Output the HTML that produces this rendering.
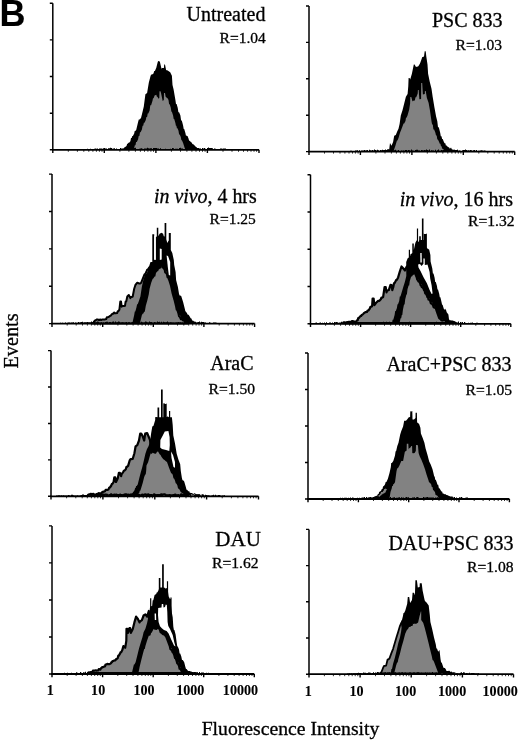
<!DOCTYPE html>
<html><head><meta charset="utf-8"><style>
html,body{margin:0;padding:0;background:#fff;}
svg{display:block;filter:grayscale(1);}
text{font-family:"Liberation Serif",serif;fill:#000;stroke:#000;stroke-width:0.3px;}
text[font-weight=bold]{stroke-width:0.1px;}
</style></head><body>
<svg width="520" height="741" viewBox="0 0 520 741">
<rect width="520" height="741" fill="#fff"/>
<polygon points="118.0,149.8 118.5,149.3 119.0,149.3 119.5,148.9 120.0,148.9 120.5,149.4 121.0,149.4 121.5,148.3 122.0,148.3 122.5,148.8 123.0,148.8 124.0,148.5 124.6,147.1 125.2,147.1 126.5,146.0 127.2,143.8 127.8,143.8 128.4,142.8 129.1,142.8 130.4,141.2 131.0,138.0 131.7,138.0 132.3,136.0 132.9,136.0 134.2,133.5 134.7,131.1 135.2,131.1 136.2,130.0 138.1,121.9 138.8,119.4 139.6,119.4 141.0,118.0 142.5,112.0 143.8,106.5 145.4,94.2 147.1,93.0 148.8,82.7 150.6,75.8 151.3,74.5 152.1,74.5 153.5,73.5 154.2,71.1 154.9,71.1 156.3,67.7 157.6,62.5 158.1,61.0 159.8,61.5 161.5,68.8 162.1,67.9 162.7,67.9 163.9,68.0 164.2,64.5 165.0,64.5 166.1,70.0 166.7,70.2 167.2,70.2 168.4,71.1 170.2,72.3 171.9,75.8 172.5,85.0 173.6,89.6 175.4,100.0 176.0,104.0 176.6,104.0 177.7,107.7 178.4,112.2 179.1,112.2 180.4,115.4 181.1,120.5 181.8,120.5 183.1,125.4 183.7,129.1 184.2,129.1 185.4,133.1 185.9,135.6 186.4,135.6 186.9,136.1 187.5,136.1 188.5,138.5 189.1,140.8 189.8,140.8 190.4,141.7 191.0,141.7 192.3,143.8 192.9,144.3 193.5,144.3 194.0,145.2 194.6,145.2 195.2,146.5 195.8,146.5 196.9,147.7 197.4,148.5 197.9,148.5 198.4,147.9 198.9,147.9 199.5,148.8 200.0,148.8 201.0,149.0 207.0,149.8" fill="#000"/>
<polygon points="133.5,149.8 134.2,147.9 134.8,145.2 135.5,145.2 136.1,141.9 136.8,141.9 138.1,139.2 138.7,136.1 139.4,136.1 140.0,132.2 140.6,132.2 141.9,129.6 142.6,125.8 143.2,125.8 143.9,122.8 144.5,122.8 145.8,120.0 146.4,117.1 147.1,117.1 147.7,113.5 148.3,113.5 149.6,110.4 150.3,105.3 151.1,105.3 152.5,100.8 153.0,98.2 153.6,98.2 154.6,95.4 156.3,94.8 156.9,96.7 157.4,96.7 158.6,98.8 159.3,98.0 159.5,91.3 160.5,91.3 161.0,93.0 162.7,101.1 163.8,100.0 164.0,93.0 165.0,93.0 165.6,96.5 166.2,97.4 166.8,97.4 167.9,98.8 168.5,100.0 169.1,104.3 169.7,104.3 170.8,107.7 171.4,111.8 171.9,111.8 173.1,115.4 173.7,118.9 174.2,118.9 175.4,123.1 175.9,125.8 176.4,125.8 176.9,128.3 177.5,128.3 178.5,130.8 179.1,134.4 179.7,134.4 180.8,136.9 181.4,140.3 181.9,140.3 183.1,143.1 184.6,147.7 185.5,149.8" fill="#828282"/>
<polygon points="86.0,149.8 86.0,149.1 87.0,149.1 87.0,148.8 88.0,148.8 88.0,149.1 89.0,149.1 89.0,149.0 90.0,149.0 90.0,148.8 91.0,148.8 91.0,149.1 92.0,149.1 92.0,148.9 93.0,148.9 93.0,149.2 94.0,149.2 94.0,148.7 95.0,148.7 95.0,148.6 96.0,148.6 96.0,148.7 97.0,148.7 97.0,148.5 98.0,148.5 98.0,148.9 99.0,148.9 99.0,148.6 100.0,148.6 100.0,148.6 101.0,148.6 101.0,148.6 102.0,148.6 102.0,148.7 103.0,148.7 103.0,148.3 104.0,148.3 104.0,148.1 105.0,148.1 105.0,148.6 106.0,148.6 106.0,148.4 107.0,148.4 107.0,149.1 108.0,149.1 108.0,148.3 109.0,148.3 109.0,148.3 110.0,148.3 110.0,147.8 111.0,147.8 111.0,148.0 112.0,148.0 112.0,148.8 113.0,148.8 113.0,148.6 114.0,148.6 114.0,148.2 115.0,148.2 115.0,149.2 116.0,149.2 116.0,148.5 117.0,148.5 117.0,148.9 118.0,148.9 118.0,149.0 119.0,149.0 119.0,149.1 120.0,149.1 120.0,148.0 121.0,148.0 121.0,149.0 122.0,149.0 122.0,148.8 123.0,148.8 123.0,148.6 124.0,148.6 124.0,147.9 125.0,147.9 125.0,149.1 126.0,149.1 126.0,148.5 127.0,148.5 127.0,148.4 128.0,148.4 128.0,147.9 129.0,147.9 129.0,148.0 130.0,148.0 130.0,147.9 131.0,147.9 131.0,148.8 132.0,148.8 132.0,148.6 133.0,148.6 133.0,148.7 134.0,148.7 134.0,147.9 135.0,147.9 135.0,147.8 136.0,147.8 136.0,149.0 137.0,149.0 137.0,148.9 138.0,148.9 138.0,148.9 139.0,148.9 139.0,148.8 140.0,148.8 140.0,148.5 141.0,148.5 141.0,148.3 142.0,148.3 142.0,148.8 143.0,148.8 143.0,149.2 144.0,149.2 144.0,148.6 145.0,148.6 145.0,148.6 146.0,148.6 146.0,148.4 147.0,148.4 147.0,147.8 148.0,147.8 148.0,148.2 149.0,148.2 149.0,148.4 150.0,148.4 150.0,148.3 151.0,148.3 151.0,148.2 152.0,148.2 152.0,149.1 153.0,149.1 153.0,147.9 154.0,147.9 154.0,148.0 155.0,148.0 155.0,147.9 156.0,147.9 156.0,148.0 157.0,148.0 157.0,148.6 158.0,148.6 158.0,148.6 159.0,148.6 159.0,149.0 160.0,149.0 160.0,148.2 161.0,148.2 161.0,149.1 162.0,149.1 162.0,149.1 163.0,149.1 163.0,148.9 164.0,148.9 164.0,149.0 165.0,149.0 165.0,148.7 166.0,148.7 166.0,149.1 167.0,149.1 167.0,149.2 168.0,149.2 168.0,149.0 169.0,149.0 169.0,149.0 170.0,149.0 170.0,148.7 171.0,148.7 171.0,149.2 172.0,149.2 172.0,147.9 173.0,147.9 173.0,148.3 174.0,148.3 174.0,149.0 175.0,149.0 175.0,148.8 176.0,148.8 176.0,148.7 177.0,148.7 177.0,148.7 178.0,148.7 178.0,149.0 179.0,149.0 179.0,147.9 180.0,147.9 180.0,147.7 181.0,147.7 181.0,148.5 182.0,148.5 182.0,148.5 183.0,148.5 183.0,149.1 184.0,149.1 184.0,149.0 185.0,149.0 185.0,148.7 186.0,148.7 186.0,148.8 187.0,148.8 187.0,148.0 188.0,148.0 188.0,149.0 189.0,149.0 189.0,149.2 190.0,149.2 190.0,147.8 191.0,147.8 191.0,148.4 192.0,148.4 192.0,149.0 193.0,149.0 193.0,148.4 194.0,148.4 194.0,149.2 195.0,149.2 195.0,148.4 196.0,148.4 196.0,147.7 197.0,147.7 197.0,147.9 198.0,147.9 198.0,148.2 199.0,148.2 199.0,148.8 200.0,148.8 200.0,148.6 201.0,148.6 201.0,148.9 202.0,148.9 202.0,148.0 203.0,148.0 203.0,148.4 204.0,148.4 204.0,148.0 205.0,148.0 205.0,148.7 206.0,148.7 206.0,148.9 207.0,148.9 207.0,148.0 208.0,148.0 208.0,147.6 209.0,147.6 209.0,147.9 210.0,147.9 210.0,148.0 211.0,148.0 211.0,148.0 212.0,148.0 212.0,148.2 213.0,148.2 213.0,148.9 214.0,148.9 214.0,148.5 215.0,148.5 215.0,148.8 216.0,148.8 216.0,149.2 217.0,149.2 217.0,149.2 218.0,149.2 218.0,148.9 219.0,148.9 219.0,148.9 220.0,148.9 220.0,148.6 221.0,148.6 221.0,148.4 222.0,148.4 222.0,148.8 223.0,148.8 223.0,148.5 224.0,148.5 224.0,148.5 225.0,148.5 225.0,148.6 226.0,148.6 226.0,149.0 227.0,149.0 227.0,149.1 228.0,149.1 228.0,149.1 229.0,149.1 229.0,149.8" fill="#000"/>
<path d="M52.8,3.2V149.8" fill="none" stroke="#000" stroke-width="1.5"/>
<path d="M52.0,149.8H259.0" fill="none" stroke="#000" stroke-width="1.8"/>
<path d="M49.8,3.2H52.8M52.8,149.8V153.1M49.8,39.9H52.8M104.3,149.8V153.1M49.8,76.5H52.8M155.9,149.8V153.1M49.8,113.2H52.8M207.4,149.8V153.1M49.8,149.8H52.8M259.0,149.8V153.1" fill="none" stroke="#000" stroke-width="1.4"/>
<path d="M68.3,149.8V151.8M77.4,149.8V151.8M83.8,149.8V151.8M88.8,149.8V151.8M92.9,149.8V151.8M96.4,149.8V151.8M99.4,149.8V151.8M102.0,149.8V151.8M119.9,149.8V151.8M128.9,149.8V151.8M135.4,149.8V151.8M140.4,149.8V151.8M144.5,149.8V151.8M147.9,149.8V151.8M150.9,149.8V151.8M153.5,149.8V151.8M171.4,149.8V151.8M180.5,149.8V151.8M186.9,149.8V151.8M191.9,149.8V151.8M196.0,149.8V151.8M199.5,149.8V151.8M202.5,149.8V151.8M205.1,149.8V151.8M223.0,149.8V151.8M232.0,149.8V151.8M238.5,149.8V151.8M243.5,149.8V151.8M247.6,149.8V151.8M251.0,149.8V151.8M254.0,149.8V151.8M256.6,149.8V151.8" fill="none" stroke="#000" stroke-width="1.0" opacity="0.8"/>
<polygon points="92.0,323.4 93.5,322.9 94.1,321.3 94.6,321.3 95.2,320.2 95.8,320.2 96.9,319.4 97.5,319.6 98.1,319.6 98.7,320.0 99.2,320.0 100.4,319.4 101.0,319.9 101.6,319.9 102.1,319.4 102.7,319.4 103.3,319.6 103.8,319.6 105.0,319.4 105.6,319.1 106.2,319.1 106.8,317.3 107.3,317.3 108.5,317.1 109.1,316.4 109.6,316.4 110.2,315.7 110.8,315.7 111.9,314.2 112.5,313.7 113.1,313.7 114.2,312.5 114.9,313.2 115.7,313.2 117.1,313.1 117.7,311.3 118.2,311.3 119.4,309.6 120.3,301.5 121.0,301.5 121.7,306.7 122.3,305.9 122.8,305.9 124.0,306.1 125.0,305.8 125.6,301.6 126.2,301.6 127.3,296.5 128.8,295.0 130.4,298.1 131.0,297.1 131.6,297.1 132.7,296.5 134.2,288.8 135.4,285.0 137.3,282.7 139.2,283.5 139.7,283.5 140.2,283.5 141.2,282.7 142.7,278.8 144.2,275.0 144.8,273.9 145.3,273.9 146.5,271.5 147.1,269.7 147.7,269.7 148.8,268.1 149.3,267.3 149.9,267.3 150.4,267.3 150.9,267.3 152.0,266.0 152.5,265.8 153.0,265.8 153.5,264.5 154.0,264.5 154.5,264.0 155.0,264.0 156.0,264.0 156.6,263.6 157.1,263.6 157.7,264.8 158.3,264.8 158.8,264.7 159.4,264.7 160.0,263.9 160.6,263.9 161.7,264.5 162.4,267.5 163.1,267.5 164.6,269.6 165.2,272.6 165.8,272.6 166.9,274.2 167.5,277.3 168.1,277.3 169.2,280.0 171.0,285.8 172.7,293.8 174.4,299.6 176.1,306.5 176.7,309.7 177.2,309.7 178.4,313.4 179.0,316.4 179.6,316.4 180.8,319.2 181.4,319.3 181.9,319.3 183.1,320.4 183.7,320.3 184.2,320.3 184.8,322.2 185.4,322.2 186.5,322.1 188.0,323.4" fill="#828282" stroke="#000" stroke-width="2.0" stroke-linejoin="round"/>
<polygon points="132.3,323.4 134.2,315.0 134.8,311.4 135.3,311.4 136.5,307.3 137.1,304.3 137.7,304.3 138.8,301.2 140.4,296.5 141.9,286.5 143.5,279.6 145.0,275.0 145.7,273.9 146.3,273.9 147.7,271.5 149.2,266.0 150.5,262.0 152.3,262.0 152.3,234.2 154.2,234.2 154.2,260.0 155.8,260.0 155.8,236.9 156.8,236.5 156.8,227.7 158.3,227.7 158.3,236.2 159.6,233.8 161.5,232.7 163.1,233.8 163.8,236.2 164.6,236.5 164.6,223.1 166.3,223.1 166.3,239.2 167.3,243.1 168.5,240.8 168.8,240.5 168.8,233.1 169.3,233.0 169.8,233.0 170.8,233.1 170.8,250.0 172.3,253.1 173.8,260.0 174.2,265.0 175.6,271.9 176.1,280.0 177.9,286.9 179.0,293.8 179.6,295.4 180.1,295.4 181.2,296.0 183.1,301.9 184.8,308.8 185.4,311.6 185.9,311.6 187.1,313.4 187.8,314.7 188.6,314.7 190.0,316.9 190.6,318.3 191.2,318.3 192.3,320.4 192.9,320.8 193.4,320.8 194.0,321.4 194.6,321.4 195.7,322.5 197.0,323.4 186.5,323.4 185.9,322.5 185.4,322.5 184.8,321.1 184.2,321.1 183.1,320.4 182.5,319.7 181.9,319.7 180.8,319.2 180.2,315.8 179.6,315.8 178.4,313.4 177.8,310.5 177.2,310.5 176.1,306.5 174.4,299.6 172.7,293.8 171.0,285.8 169.2,280.0 168.6,276.9 168.1,276.9 166.9,274.2 166.3,271.8 165.8,271.8 164.6,269.6 163.9,268.0 163.1,268.0 161.7,266.1 161.0,268.4 160.2,268.4 158.8,269.6 158.1,271.2 157.4,271.2 156.0,273.1 155.3,276.5 154.6,276.5 153.1,278.8 152.7,278.8 151.2,282.7 149.6,288.8 148.8,294.2 147.3,300.4 145.8,305.8 145.0,310.4 144.5,311.9 144.0,311.9 143.4,313.5 142.9,313.5 141.9,315.0 140.4,321.2 140.0,323.4" fill="#000"/>
<polygon points="154.2,235.5 155.6,236.5 155.6,259.0 154.2,259.0" fill="#fff"/>
<polygon points="159.8,248.5 161.7,249.0 161.7,259.5 159.8,260.0" fill="#fff"/>
<polygon points="166.6,255.4 168.0,256.0 170.2,262.0 170.2,275.4 168.8,275.0 167.6,265.0" fill="#fff"/>
<polygon points="60.0,323.6 60.0,322.8 61.0,322.8 61.0,323.0 62.0,323.0 62.0,322.8 63.0,322.8 63.0,322.9 64.0,322.9 64.0,323.0 65.0,323.0 65.0,322.5 66.0,322.5 66.0,322.9 67.0,322.9 67.0,322.7 68.0,322.7 68.0,322.5 69.0,322.5 69.0,322.6 70.0,322.6 70.0,322.7 71.0,322.7 71.0,322.6 72.0,322.6 72.0,322.5 73.0,322.5 73.0,322.3 74.0,322.3 74.0,322.9 75.0,322.9 75.0,322.4 76.0,322.4 76.0,322.7 77.0,322.7 77.0,322.7 78.0,322.7 78.0,322.1 79.0,322.1 79.0,322.4 80.0,322.4 80.0,322.3 81.0,322.3 81.0,322.0 82.0,322.0 82.0,321.8 83.0,321.8 83.0,322.4 84.0,322.4 84.0,322.2 85.0,322.2 85.0,322.3 86.0,322.3 86.0,322.3 87.0,322.3 87.0,322.0 88.0,322.0 88.0,322.3 89.0,322.3 89.0,322.2 90.0,322.2 90.0,322.2 91.0,322.2 91.0,321.4 92.0,321.4 92.0,322.0 93.0,322.0 93.0,321.7 94.0,321.7 94.0,321.6 95.0,321.6 95.0,322.6 96.0,322.6 96.0,322.2 97.0,322.2 97.0,321.6 98.0,321.6 98.0,321.7 99.0,321.7 99.0,322.8 100.0,322.8 100.0,322.8 101.0,322.8 101.0,322.3 102.0,322.3 102.0,322.9 103.0,322.9 103.0,322.6 104.0,322.6 104.0,322.9 105.0,322.9 105.0,322.0 106.0,322.0 106.0,321.8 107.0,321.8 107.0,321.7 108.0,321.7 108.0,322.8 109.0,322.8 109.0,321.9 110.0,321.9 110.0,322.0 111.0,322.0 111.0,322.8 112.0,322.8 112.0,321.7 113.0,321.7 113.0,321.5 114.0,321.5 114.0,322.7 115.0,322.7 115.0,321.6 116.0,321.6 116.0,322.4 117.0,322.4 117.0,322.3 118.0,322.3 118.0,321.5 119.0,321.5 119.0,321.8 120.0,321.8 120.0,322.8 121.0,322.8 121.0,322.4 122.0,322.4 122.0,322.2 123.0,322.2 123.0,322.5 124.0,322.5 124.0,322.7 125.0,322.7 125.0,322.5 126.0,322.5 126.0,321.9 127.0,321.9 127.0,323.0 128.0,323.0 128.0,322.2 129.0,322.2 129.0,322.3 130.0,322.3 130.0,323.0 131.0,323.0 131.0,322.5 132.0,322.5 132.0,322.1 133.0,322.1 133.0,322.2 134.0,322.2 134.0,322.9 135.0,322.9 135.0,321.5 136.0,321.5 136.0,321.8 137.0,321.8 137.0,321.5 138.0,321.5 138.0,322.8 139.0,322.8 139.0,322.6 140.0,322.6 140.0,322.9 141.0,322.9 141.0,321.8 142.0,321.8 142.0,322.6 143.0,322.6 143.0,322.8 144.0,322.8 144.0,322.4 145.0,322.4 145.0,321.6 146.0,321.6 146.0,321.8 147.0,321.8 147.0,322.6 148.0,322.6 148.0,322.8 149.0,322.8 149.0,321.6 150.0,321.6 150.0,322.1 151.0,322.1 151.0,321.9 152.0,321.9 152.0,322.9 153.0,322.9 153.0,322.9 154.0,322.9 154.0,322.0 155.0,322.0 155.0,322.4 156.0,322.4 156.0,322.9 157.0,322.9 157.0,321.6 158.0,321.6 158.0,322.0 159.0,322.0 159.0,321.8 160.0,321.8 160.0,322.9 161.0,322.9 161.0,321.7 162.0,321.7 162.0,322.9 163.0,322.9 163.0,321.7 164.0,321.7 164.0,322.3 165.0,322.3 165.0,322.5 166.0,322.5 166.0,322.2 167.0,322.2 167.0,321.6 168.0,321.6 168.0,322.6 169.0,322.6 169.0,322.8 170.0,322.8 170.0,322.2 171.0,322.2 171.0,322.6 172.0,322.6 172.0,322.8 173.0,322.8 173.0,322.8 174.0,322.8 174.0,322.9 175.0,322.9 175.0,322.7 176.0,322.7 176.0,322.5 177.0,322.5 177.0,322.5 178.0,322.5 178.0,321.9 179.0,321.9 179.0,322.6 180.0,322.6 180.0,322.2 181.0,322.2 181.0,322.7 182.0,322.7 182.0,322.5 183.0,322.5 183.0,323.0 184.0,323.0 184.0,322.6 185.0,322.6 185.0,323.0 186.0,323.0 186.0,321.9 187.0,321.9 187.0,322.2 188.0,322.2 188.0,322.7 189.0,322.7 189.0,322.3 190.0,322.3 190.0,321.6 191.0,321.6 191.0,322.8 192.0,322.8 192.0,321.8 193.0,321.8 193.0,322.4 194.0,322.4 194.0,322.3 195.0,322.3 195.0,321.7 196.0,321.7 196.0,322.4 197.0,322.4 197.0,322.2 198.0,322.2 198.0,321.9 199.0,321.9 199.0,321.4 200.0,321.4 200.0,322.5 201.0,322.5 201.0,321.8 202.0,321.8 202.0,322.0 203.0,322.0 203.0,322.1 204.0,322.1 204.0,322.5 205.0,322.5 205.0,322.6 206.0,322.6 206.0,322.9 207.0,322.9 207.0,322.9 208.0,322.9 208.0,322.9 209.0,322.9 209.0,322.3 210.0,322.3 210.0,322.8 211.0,322.8 211.0,322.9 212.0,322.9 212.0,322.9 213.0,322.9 213.0,322.4 214.0,322.4 214.0,322.4 215.0,322.4 215.0,322.6 216.0,322.6 216.0,322.8 217.0,322.8 217.0,322.9 218.0,322.9 218.0,322.9 219.0,322.9 219.0,323.6" fill="#000"/>
<path d="M52.0,174.1V323.6" fill="none" stroke="#000" stroke-width="1.5"/>
<path d="M51.2,323.6H254.6" fill="none" stroke="#000" stroke-width="1.8"/>
<path d="M49.0,174.1H52.0M52.0,323.6V326.9M49.0,211.5H52.0M102.7,323.6V326.9M49.0,248.9H52.0M153.3,323.6V326.9M49.0,286.2H52.0M203.9,323.6V326.9M49.0,323.6H52.0M254.6,323.6V326.9" fill="none" stroke="#000" stroke-width="1.4"/>
<path d="M67.2,323.6V325.6M76.2,323.6V325.6M82.5,323.6V325.6M87.4,323.6V325.6M91.4,323.6V325.6M94.8,323.6V325.6M97.7,323.6V325.6M100.3,323.6V325.6M117.9,323.6V325.6M126.8,323.6V325.6M133.1,323.6V325.6M138.1,323.6V325.6M142.1,323.6V325.6M145.5,323.6V325.6M148.4,323.6V325.6M151.0,323.6V325.6M168.5,323.6V325.6M177.5,323.6V325.6M183.8,323.6V325.6M188.7,323.6V325.6M192.7,323.6V325.6M196.1,323.6V325.6M199.0,323.6V325.6M201.6,323.6V325.6M219.2,323.6V325.6M228.1,323.6V325.6M234.4,323.6V325.6M239.4,323.6V325.6M243.4,323.6V325.6M246.8,323.6V325.6M249.7,323.6V325.6M252.3,323.6V325.6" fill="none" stroke="#000" stroke-width="1.0" opacity="0.8"/>
<polygon points="88.0,495.0 88.5,494.7 89.0,494.7 90.0,494.5 90.6,493.9 91.2,493.9 91.7,494.3 92.3,494.3 92.9,493.9 93.5,493.9 94.0,494.8 94.6,494.8 95.2,494.7 95.8,494.7 96.9,494.0 97.5,493.8 98.1,493.8 98.6,493.1 99.2,493.1 99.8,493.9 100.3,493.9 101.5,493.0 102.1,492.1 102.7,492.1 103.2,491.6 103.8,491.6 105.0,491.2 105.6,489.9 106.2,489.9 106.8,489.9 107.3,489.9 108.5,489.5 109.2,487.5 109.9,487.5 111.3,485.5 111.9,483.8 112.4,483.8 113.6,482.0 114.3,477.4 115.3,477.4 116.0,482.0 117.7,478.6 118.9,472.8 119.9,472.8 121.1,476.2 121.7,473.5 122.2,473.5 123.4,471.6 124.0,470.5 124.6,470.5 125.8,469.3 126.4,466.9 126.9,466.9 128.1,465.9 129.8,460.1 130.5,459.2 131.2,459.2 132.7,458.9 134.4,453.2 135.6,446.3 137.3,445.1 139.0,440.5 140.2,433.6 141.2,433.6 142.5,435.9 144.2,440.5 145.2,433.6 147.1,433.0 148.8,437.0 150.0,440.0 151.3,452.7 151.9,451.5 152.5,451.3 153.1,451.3 153.7,452.2 154.2,452.2 155.4,452.7 156.1,450.6 156.9,450.6 158.3,449.8 160.0,452.7 160.6,453.7 161.2,453.7 162.3,456.1 164.0,458.4 165.8,459.6 166.4,460.5 166.9,460.5 168.1,461.9 169.8,466.5 171.5,471.1 172.1,472.5 172.7,472.5 173.8,474.6 174.4,477.6 174.9,477.6 176.1,480.4 176.7,482.7 177.2,482.7 178.4,485.0 179.0,487.7 179.6,487.7 180.8,489.6 181.4,491.0 181.9,491.0 182.5,492.2 183.1,492.2 184.2,493.0 184.8,494.1 185.3,494.1 186.5,494.2 188.0,495.0 187.5,494.8 187.0,494.8 186.5,494.8 186.0,494.8 185.5,495.7 185.0,495.7 184.5,494.5 184.0,494.5 183.5,495.3 183.0,495.3 182.5,495.2 182.0,495.2 181.5,494.4 181.0,494.4 180.5,495.5 180.0,495.5 179.5,495.5 179.0,495.5 178.5,495.2 178.0,495.2 177.5,495.3 177.0,495.3 176.5,495.4 176.0,495.4 175.5,494.5 175.0,494.5 174.5,495.0 174.0,495.0 173.5,495.0 173.0,495.0 172.5,495.5 172.0,495.5 171.5,495.4 171.0,495.4 170.5,495.5 170.0,495.5 169.5,495.1 169.0,495.1 168.5,495.5 168.0,495.5 167.5,495.3 167.0,495.3 166.5,495.3 166.0,495.3 165.5,494.6 165.0,494.6 164.5,494.3 164.0,494.3 163.5,494.5 163.0,494.5 162.5,494.8 162.0,494.8 161.5,494.4 161.0,494.4 160.5,495.5 160.0,495.5 159.5,495.1 159.0,495.1 158.5,495.2 158.0,495.2 157.5,495.2 157.0,495.2 156.5,495.3 156.0,495.3 155.5,495.0 155.0,495.0 154.5,494.3 154.0,494.3 153.5,495.4 153.0,495.4 152.5,495.3 152.0,495.3 151.5,495.0 151.0,495.0 150.5,495.0 150.0,495.0 149.5,495.2 149.0,495.2 148.5,494.4 148.0,494.4 147.5,495.3 147.0,495.3 146.5,494.7 146.0,494.7 145.5,494.4 145.0,494.4 144.5,494.7 144.0,494.7 143.5,495.3 143.0,495.3 142.5,494.6 142.0,494.6 141.5,495.3 141.0,495.3 140.5,495.7 140.0,495.7 139.5,495.0 139.0,495.0 138.5,494.8 138.0,494.8 137.5,495.0 137.0,495.0 136.5,495.3 136.0,495.3 135.5,495.4 135.0,495.4 134.5,495.2 134.0,495.2 133.5,495.2 133.0,495.2 132.5,494.4 132.0,494.4 131.5,494.5 131.0,494.5 130.5,494.7 130.0,494.7 129.5,495.3 129.0,495.3 128.5,494.7 128.0,494.7 127.5,495.1 127.0,495.1 126.5,494.3 126.0,494.3 125.5,494.4 125.0,494.4 124.5,494.7 124.0,494.7 123.5,495.2 123.0,495.2 122.5,495.3 122.0,495.3 121.5,495.2 121.0,495.2 120.5,494.7 120.0,494.7 119.5,495.0 119.0,495.0 118.5,495.0 118.0,495.0 117.5,495.0 117.0,495.0 116.5,494.5 116.0,494.5 115.5,495.6 115.0,495.6 114.5,494.6 114.0,494.6 113.5,495.7 113.0,495.7 112.5,495.6 112.0,495.6 111.5,494.3 111.0,494.3 110.5,494.9 110.0,494.9 109.5,495.4 109.0,495.4 108.5,495.7 108.0,495.7 107.5,494.9 107.0,494.9 106.5,494.7 106.0,494.7 105.5,494.6 105.0,494.6 104.5,495.6 104.0,495.6 103.5,494.6 103.0,494.6 102.5,495.1 102.0,495.1 101.5,494.5 101.0,494.5 100.5,495.0 100.0,495.0 99.5,495.6 99.0,495.6 98.5,494.5 98.0,494.5 97.5,495.4 97.0,495.4 96.5,495.0 96.0,495.0 95.5,495.5 95.0,495.5 94.5,495.3 94.0,495.3 93.5,494.6 93.0,494.6 92.5,495.6 92.0,495.6 91.5,495.0 91.0,495.0 90.5,494.3 90.0,494.3 89.5,494.3 89.0,494.3" fill="#828282" stroke="#000" stroke-width="2.2" stroke-linejoin="round"/>
<polygon points="130.5,495.5 131.5,495.4 132.0,493.6 132.5,493.6 133.1,491.7 133.6,491.7 134.6,490.0 135.1,487.9 135.6,487.9 136.1,485.9 136.7,485.9 137.7,484.6 139.2,478.5 140.8,472.3 142.3,466.9 143.8,460.8 145.4,453.8 146.9,449.2 148.5,446.2 150.0,442.0 151.1,433.4 152.3,426.5 153.5,425.8 155.2,420.0 155.2,417.3 155.8,417.1 156.3,417.1 157.5,417.3 157.5,407.5 159.2,407.5 159.2,417.3 161.0,417.3 161.0,389.6 162.7,389.6 162.7,417.3 163.3,417.3 163.3,403.5 163.9,403.2 164.4,403.2 165.0,404.0 165.6,404.0 166.7,403.5 166.7,417.3 167.3,416.6 167.8,416.6 169.0,417.3 169.0,411.0 170.2,411.0 170.2,417.3 171.9,417.3 172.7,425.0 173.3,435.4 175.0,443.5 176.7,453.8 178.4,459.6 180.2,464.2 180.8,471.1 181.9,478.1 182.5,480.2 183.1,480.2 184.2,481.5 185.9,487.3 186.5,489.8 187.1,489.8 188.3,491.3 188.8,491.2 189.3,491.2 189.8,492.7 190.3,492.7 190.8,492.9 191.3,492.9 192.3,493.0 192.9,493.9 193.5,493.9 194.0,493.3 194.6,493.3 195.2,493.7 195.8,493.7 196.9,494.2 197.5,494.2 198.1,494.2 198.6,495.2 199.2,495.2 199.8,494.8 200.4,494.8 201.0,494.6 201.5,494.6 202.7,495.0 202.2,494.9 201.7,494.9 201.2,494.7 200.7,494.7 200.2,494.4 199.7,494.4 199.2,494.4 198.6,494.4 198.1,495.5 197.6,495.5 197.1,494.7 196.6,494.7 196.1,495.6 195.6,495.6 195.1,494.6 194.6,494.6 194.1,494.7 193.6,494.7 193.1,495.0 192.6,495.0 192.1,494.6 191.6,494.6 191.1,494.8 190.6,494.8 190.0,495.6 189.5,495.6 189.0,495.5 188.5,495.5 188.0,495.4 187.5,495.4 186.5,495.0 185.9,494.2 185.3,494.2 184.2,493.0 183.6,492.4 183.1,492.4 182.5,491.4 181.9,491.4 180.8,489.6 180.2,487.4 179.6,487.4 178.4,485.0 177.8,483.0 177.2,483.0 176.1,480.4 175.5,476.9 174.9,476.9 173.8,474.6 173.2,473.2 172.7,473.2 171.5,471.1 169.8,466.5 168.1,461.9 167.5,460.7 166.9,460.7 165.8,459.6 164.0,458.4 162.3,456.1 161.7,454.8 161.2,454.8 160.0,452.7 158.3,449.8 157.6,451.5 156.9,451.5 155.4,452.7 154.9,452.3 154.4,452.3 153.9,451.8 153.3,451.8 152.3,452.3 151.5,450.8 150.0,455.4 148.1,462.3 146.5,465.4 146.2,470.8 145.7,474.4 145.2,474.4 144.2,476.9 142.7,483.1 140.8,489.2 140.3,490.7 139.8,490.7 139.2,493.3 138.7,493.3 137.7,495.4" fill="#000"/>
<polygon points="164.8,431.5 168.4,431.0 169.6,437.0 169.8,445.0 169.3,451.0 166.0,450.0 162.0,449.0 160.2,447.5 160.4,440.0 162.5,436.0" fill="#fff"/>
<polygon points="171.0,451.5 173.0,455.0 175.0,462.0 175.0,467.7 173.5,467.0 171.5,458.0" fill="#fff"/>
<polygon points="56.0,496.3 56.0,495.6 57.0,495.6 57.0,495.6 58.0,495.6 58.0,495.3 59.0,495.3 59.0,495.2 60.0,495.2 60.0,495.6 61.0,495.6 61.0,495.3 62.0,495.3 62.0,495.5 63.0,495.5 63.0,495.3 64.0,495.3 64.0,495.4 65.0,495.4 65.0,495.6 66.0,495.6 66.0,495.6 67.0,495.6 67.0,495.5 68.0,495.5 68.0,494.9 69.0,494.9 69.0,495.2 70.0,495.2 70.0,495.5 71.0,495.5 71.0,494.8 72.0,494.8 72.0,494.7 73.0,494.7 73.0,495.2 74.0,495.2 74.0,495.5 75.0,495.5 75.0,495.5 76.0,495.5 76.0,495.6 77.0,495.6 77.0,495.3 78.0,495.3 78.0,495.6 79.0,495.6 79.0,495.4 80.0,495.4 80.0,495.3 81.0,495.3 81.0,494.9 82.0,494.9 82.0,494.4 83.0,494.4 83.0,494.6 84.0,494.6 84.0,495.1 85.0,495.1 85.0,495.0 86.0,495.0 86.0,494.9 87.0,494.9 87.0,495.1 88.0,495.1 88.0,495.2 89.0,495.2 89.0,495.6 90.0,495.6 90.0,495.3 91.0,495.3 91.0,494.2 92.0,494.2 92.0,495.5 93.0,495.5 93.0,494.9 94.0,494.9 94.0,494.8 95.0,494.8 95.0,494.4 96.0,494.4 96.0,495.4 97.0,495.4 97.0,495.3 98.0,495.3 98.0,495.3 99.0,495.3 99.0,495.1 100.0,495.1 100.0,495.0 101.0,495.0 101.0,494.3 102.0,494.3 102.0,494.4 103.0,494.4 103.0,494.4 104.0,494.4 104.0,495.7 105.0,495.7 105.0,495.7 106.0,495.7 106.0,494.6 107.0,494.6 107.0,494.4 108.0,494.4 108.0,495.0 109.0,495.0 109.0,494.8 110.0,494.8 110.0,495.7 111.0,495.7 111.0,495.1 112.0,495.1 112.0,494.3 113.0,494.3 113.0,494.5 114.0,494.5 114.0,494.4 115.0,494.4 115.0,494.2 116.0,494.2 116.0,495.3 117.0,495.3 117.0,495.5 118.0,495.5 118.0,495.5 119.0,495.5 119.0,494.9 120.0,494.9 120.0,494.7 121.0,494.7 121.0,494.3 122.0,494.3 122.0,494.6 123.0,494.6 123.0,494.7 124.0,494.7 124.0,494.6 125.0,494.6 125.0,495.0 126.0,495.0 126.0,494.9 127.0,494.9 127.0,495.6 128.0,495.6 128.0,494.5 129.0,494.5 129.0,495.4 130.0,495.4 130.0,494.3 131.0,494.3 131.0,494.7 132.0,494.7 132.0,495.2 133.0,495.2 133.0,495.5 134.0,495.5 134.0,495.3 135.0,495.3 135.0,494.7 136.0,494.7 136.0,494.7 137.0,494.7 137.0,495.5 138.0,495.5 138.0,495.6 139.0,495.6 139.0,494.9 140.0,494.9 140.0,494.8 141.0,494.8 141.0,495.1 142.0,495.1 142.0,495.4 143.0,495.4 143.0,494.8 144.0,494.8 144.0,495.7 145.0,495.7 145.0,495.2 146.0,495.2 146.0,495.0 147.0,495.0 147.0,494.3 148.0,494.3 148.0,494.7 149.0,494.7 149.0,494.4 150.0,494.4 150.0,495.0 151.0,495.0 151.0,495.3 152.0,495.3 152.0,495.3 153.0,495.3 153.0,494.3 154.0,494.3 154.0,494.6 155.0,494.6 155.0,495.2 156.0,495.2 156.0,495.7 157.0,495.7 157.0,495.0 158.0,495.0 158.0,494.7 159.0,494.7 159.0,495.1 160.0,495.1 160.0,495.3 161.0,495.3 161.0,494.7 162.0,494.7 162.0,494.3 163.0,494.3 163.0,495.4 164.0,495.4 164.0,495.6 165.0,495.6 165.0,495.2 166.0,495.2 166.0,495.1 167.0,495.1 167.0,494.7 168.0,494.7 168.0,495.4 169.0,495.4 169.0,494.5 170.0,494.5 170.0,494.6 171.0,494.6 171.0,494.9 172.0,494.9 172.0,495.4 173.0,495.4 173.0,494.2 174.0,494.2 174.0,495.2 175.0,495.2 175.0,494.5 176.0,494.5 176.0,495.4 177.0,495.4 177.0,495.4 178.0,495.4 178.0,494.6 179.0,494.6 179.0,495.3 180.0,495.3 180.0,494.3 181.0,494.3 181.0,495.0 182.0,495.0 182.0,495.4 183.0,495.4 183.0,495.4 184.0,495.4 184.0,495.1 185.0,495.1 185.0,494.7 186.0,494.7 186.0,494.3 187.0,494.3 187.0,495.5 188.0,495.5 188.0,495.1 189.0,495.1 189.0,495.4 190.0,495.4 190.0,494.2 191.0,494.2 191.0,495.5 192.0,495.5 192.0,495.6 193.0,495.6 193.0,495.6 194.0,495.6 194.0,495.1 195.0,495.1 195.0,494.4 196.0,494.4 196.0,494.4 197.0,494.4 197.0,494.6 198.0,494.6 198.0,494.2 199.0,494.2 199.0,494.3 200.0,494.3 200.0,495.2 201.0,495.2 201.0,495.4 202.0,495.4 202.0,494.3 203.0,494.3 203.0,494.4 204.0,494.4 204.0,495.6 205.0,495.6 205.0,494.7 206.0,494.7 206.0,495.1 207.0,495.1 207.0,495.2 208.0,495.2 208.0,495.2 209.0,495.2 209.0,495.5 210.0,495.5 210.0,495.7 211.0,495.7 211.0,495.4 212.0,495.4 212.0,495.3 213.0,495.3 213.0,494.7 214.0,494.7 214.0,495.6 215.0,495.6 215.0,494.8 216.0,494.8 216.0,495.5 217.0,495.5 217.0,495.4 218.0,495.4 218.0,495.0 219.0,495.0 219.0,495.1 220.0,495.1 220.0,495.4 221.0,495.4 221.0,495.7 222.0,495.7 222.0,495.4 223.0,495.4 223.0,495.5 224.0,495.5 224.0,495.3 225.0,495.3 225.0,496.3" fill="#000"/>
<path d="M51.0,350.6V496.3" fill="none" stroke="#000" stroke-width="1.5"/>
<path d="M50.2,496.3H258.5" fill="none" stroke="#000" stroke-width="1.8"/>
<path d="M48.0,350.6H51.0M51.0,496.3V499.6M48.0,387.0H51.0M102.9,496.3V499.6M48.0,423.5H51.0M154.8,496.3V499.6M48.0,459.9H51.0M206.6,496.3V499.6M48.0,496.3H51.0M258.5,496.3V499.6" fill="none" stroke="#000" stroke-width="1.4"/>
<path d="M66.6,496.3V498.3M75.8,496.3V498.3M82.2,496.3V498.3M87.3,496.3V498.3M91.4,496.3V498.3M94.8,496.3V498.3M97.8,496.3V498.3M100.5,496.3V498.3M118.5,496.3V498.3M127.6,496.3V498.3M134.1,496.3V498.3M139.1,496.3V498.3M143.2,496.3V498.3M146.7,496.3V498.3M149.7,496.3V498.3M152.4,496.3V498.3M170.4,496.3V498.3M179.5,496.3V498.3M186.0,496.3V498.3M191.0,496.3V498.3M195.1,496.3V498.3M198.6,496.3V498.3M201.6,496.3V498.3M204.3,496.3V498.3M222.2,496.3V498.3M231.4,496.3V498.3M237.9,496.3V498.3M242.9,496.3V498.3M247.0,496.3V498.3M250.5,496.3V498.3M253.5,496.3V498.3M256.1,496.3V498.3" fill="none" stroke="#000" stroke-width="1.0" opacity="0.8"/>
<polygon points="88.0,673.0 88.5,672.4 89.0,672.4 90.0,672.7 90.6,672.0 91.2,672.0 91.7,672.3 92.3,672.3 92.9,670.6 93.5,670.6 94.1,670.7 94.6,670.7 95.8,670.3 96.4,670.6 97.0,670.6 97.5,670.4 98.1,670.4 98.7,669.2 99.2,669.2 100.4,669.7 101.0,668.1 101.5,668.1 102.1,667.2 102.7,667.2 103.8,666.8 104.4,666.4 105.0,666.4 105.5,664.5 106.1,664.5 107.3,663.9 107.9,664.1 108.5,664.1 109.0,664.1 109.6,664.1 110.8,663.4 111.4,662.2 111.9,662.2 112.5,661.1 113.1,661.1 114.2,660.5 114.8,660.4 115.4,660.4 116.0,659.1 116.5,659.1 117.7,658.2 118.3,655.6 118.8,655.6 120.0,653.6 120.6,652.2 121.2,652.2 122.3,650.1 123.4,646.1 125.2,647.8 126.3,640.9 126.5,628.8 127.4,628.8 128.1,632.8 129.4,628.2 130.2,628.2 130.9,632.8 132.7,629.3 134.4,622.4 136.1,616.6 137.9,619.0 139.6,622.4 140.2,621.0 140.8,621.0 141.9,620.1 143.6,615.5 145.4,614.3 147.1,616.6 148.8,611.0 149.6,634.6 150.2,632.0 150.8,632.0 151.9,630.0 152.5,628.2 153.1,628.2 154.2,627.7 154.8,628.6 155.3,628.6 156.5,628.8 158.3,627.1 160.0,630.0 160.6,632.3 161.2,632.3 162.3,633.4 162.9,634.2 163.4,634.2 164.6,634.6 166.3,636.9 168.1,641.5 169.8,646.1 170.4,649.1 170.9,649.1 172.1,650.8 172.7,652.4 173.2,652.4 174.4,655.4 175.0,657.9 175.6,657.9 176.7,661.1 177.3,663.4 177.8,663.4 179.0,665.7 179.6,668.7 180.2,668.7 181.3,670.4 181.9,672.2 182.4,672.2 183.6,672.7 185.0,673.0" fill="#828282" stroke="#000" stroke-width="2.2" stroke-linejoin="round"/>
<polygon points="131.8,673.2 133.3,666.9 133.9,664.4 134.4,664.4 135.6,662.3 137.3,655.4 139.0,648.4 140.7,642.7 142.5,636.9 143.6,632.3 145.4,628.8 147.1,623.1 148.8,615.0 149.7,610.3 150.1,606.0 150.1,598.2 151.3,598.2 151.3,606.0 152.1,606.3 152.7,600.3 153.3,600.3 154.6,595.0 156.2,594.1 156.7,592.4 157.2,592.4 158.2,590.9 158.8,589.0 158.8,578.0 160.4,578.0 160.4,587.5 162.1,587.5 162.1,564.2 163.8,564.2 163.8,587.5 164.3,587.7 164.8,587.7 165.4,588.4 165.9,588.4 166.9,588.0 166.9,581.2 168.1,581.2 168.1,591.7 168.7,596.6 170.0,599.0 170.4,599.0 170.4,597.4 171.6,597.4 171.6,605.5 172.0,613.6 172.7,617.3 173.3,626.5 173.9,630.1 174.4,630.1 175.6,634.6 176.7,642.7 177.3,646.6 177.8,646.6 179.0,649.6 179.6,653.4 180.2,653.4 181.3,656.5 182.0,659.9 182.8,659.9 184.2,662.3 185.4,666.9 186.0,669.0 186.6,669.0 187.7,670.4 188.3,671.0 188.8,671.0 189.4,671.0 190.0,671.0 190.6,671.4 191.2,671.4 192.3,672.1 192.9,672.1 193.4,672.1 194.0,672.9 194.6,672.9 195.2,672.1 195.7,672.1 196.3,672.4 196.9,672.4 198.0,673.0 183.6,673.0 183.0,672.1 182.4,672.1 181.3,670.4 180.7,667.7 180.2,667.7 179.0,665.7 178.4,662.8 177.8,662.8 176.7,661.1 176.1,657.6 175.6,657.6 174.4,655.4 173.8,653.2 173.2,653.2 172.1,650.8 171.5,648.2 170.9,648.2 169.8,646.1 168.1,641.5 166.3,636.9 164.6,634.6 164.0,634.7 163.4,634.7 162.3,633.4 161.7,632.2 161.2,632.2 160.0,630.0 158.3,627.1 156.5,628.8 155.9,628.9 155.3,628.9 154.2,627.7 153.6,628.5 153.1,628.5 151.9,630.0 151.3,631.7 150.8,631.7 149.6,634.6 148.8,635.8 147.1,640.4 145.4,646.1 144.8,649.0 144.2,649.0 143.1,653.1 141.3,660.0 139.6,666.9 138.4,673.2" fill="#000"/>
<polygon points="158.2,608.0 161.5,607.5 161.8,604.0 163.2,604.0 163.5,607.5 165.0,607.0 165.8,604.5 166.8,605.0 167.3,612.0 167.6,622.0 168.3,626.0 170.0,629.0 172.7,635.0 174.4,642.7 175.5,646.5 174.0,645.5 171.2,639.5 168.6,633.5 166.6,631.0 164.0,630.0 161.8,628.2 160.0,626.2 158.6,622.0 158.0,615.0" fill="#fff"/>
<polygon points="154.6,613.6 156.0,613.6 156.2,620.0 154.8,620.0" fill="#fff"/>
<polygon points="56.0,674.0 56.0,673.2 57.0,673.2 57.0,673.1 58.0,673.1 58.0,673.2 59.0,673.2 59.0,673.3 60.0,673.3 60.0,673.2 61.0,673.2 61.0,673.0 62.0,673.0 62.0,673.0 63.0,673.0 63.0,672.9 64.0,672.9 64.0,672.8 65.0,672.8 65.0,672.9 66.0,672.9 66.0,673.3 67.0,673.3 67.0,672.7 68.0,672.7 68.0,673.1 69.0,673.1 69.0,672.9 70.0,672.9 70.0,673.0 71.0,673.0 71.0,672.7 72.0,672.7 72.0,673.2 73.0,673.2 73.0,673.1 74.0,673.1 74.0,673.1 75.0,673.1 75.0,673.2 76.0,673.2 76.0,672.3 77.0,672.3 77.0,672.7 78.0,672.7 78.0,673.0 79.0,673.0 79.0,672.9 80.0,672.9 80.0,672.0 81.0,672.0 81.0,672.7 82.0,672.7 82.0,673.1 83.0,673.1 83.0,672.2 84.0,672.2 84.0,672.4 85.0,672.4 85.0,671.8 86.0,671.8 86.0,673.2 87.0,673.2 87.0,672.6 88.0,672.6 88.0,672.2 89.0,672.2 89.0,672.1 90.0,672.1 90.0,672.0 91.0,672.0 91.0,673.3 92.0,673.3 92.0,673.0 93.0,673.0 93.0,673.2 94.0,673.2 94.0,673.1 95.0,673.1 95.0,671.9 96.0,671.9 96.0,672.5 97.0,672.5 97.0,672.0 98.0,672.0 98.0,672.8 99.0,672.8 99.0,672.1 100.0,672.1 100.0,672.7 101.0,672.7 101.0,673.0 102.0,673.0 102.0,672.2 103.0,672.2 103.0,672.0 104.0,672.0 104.0,673.2 105.0,673.2 105.0,672.5 106.0,672.5 106.0,672.5 107.0,672.5 107.0,673.1 108.0,673.1 108.0,672.8 109.0,672.8 109.0,673.2 110.0,673.2 110.0,673.1 111.0,673.1 111.0,673.0 112.0,673.0 112.0,672.5 113.0,672.5 113.0,672.4 114.0,672.4 114.0,673.1 115.0,673.1 115.0,673.4 116.0,673.4 116.0,672.9 117.0,672.9 117.0,672.4 118.0,672.4 118.0,673.1 119.0,673.1 119.0,672.9 120.0,672.9 120.0,673.1 121.0,673.1 121.0,672.2 122.0,672.2 122.0,672.6 123.0,672.6 123.0,673.3 124.0,673.3 124.0,673.2 125.0,673.2 125.0,672.8 126.0,672.8 126.0,672.6 127.0,672.6 127.0,672.4 128.0,672.4 128.0,673.3 129.0,673.3 129.0,673.2 130.0,673.2 130.0,672.4 131.0,672.4 131.0,672.8 132.0,672.8 132.0,673.0 133.0,673.0 133.0,672.9 134.0,672.9 134.0,672.0 135.0,672.0 135.0,672.9 136.0,672.9 136.0,672.6 137.0,672.6 137.0,672.9 138.0,672.9 138.0,672.8 139.0,672.8 139.0,672.1 140.0,672.1 140.0,671.9 141.0,671.9 141.0,672.9 142.0,672.9 142.0,673.1 143.0,673.1 143.0,672.3 144.0,672.3 144.0,673.1 145.0,673.1 145.0,673.4 146.0,673.4 146.0,672.0 147.0,672.0 147.0,672.8 148.0,672.8 148.0,672.2 149.0,672.2 149.0,672.8 150.0,672.8 150.0,672.1 151.0,672.1 151.0,672.7 152.0,672.7 152.0,673.2 153.0,673.2 153.0,673.4 154.0,673.4 154.0,672.6 155.0,672.6 155.0,672.4 156.0,672.4 156.0,672.0 157.0,672.0 157.0,673.3 158.0,673.3 158.0,672.5 159.0,672.5 159.0,672.8 160.0,672.8 160.0,672.6 161.0,672.6 161.0,673.2 162.0,673.2 162.0,673.0 163.0,673.0 163.0,672.6 164.0,672.6 164.0,672.0 165.0,672.0 165.0,673.2 166.0,673.2 166.0,672.7 167.0,672.7 167.0,672.2 168.0,672.2 168.0,671.9 169.0,671.9 169.0,673.1 170.0,673.1 170.0,673.2 171.0,673.2 171.0,672.0 172.0,672.0 172.0,671.9 173.0,671.9 173.0,672.7 174.0,672.7 174.0,673.3 175.0,673.3 175.0,672.0 176.0,672.0 176.0,672.8 177.0,672.8 177.0,672.0 178.0,672.0 178.0,672.5 179.0,672.5 179.0,672.2 180.0,672.2 180.0,673.2 181.0,673.2 181.0,672.2 182.0,672.2 182.0,673.1 183.0,673.1 183.0,672.8 184.0,672.8 184.0,672.1 185.0,672.1 185.0,672.2 186.0,672.2 186.0,673.1 187.0,673.1 187.0,673.1 188.0,673.1 188.0,672.8 189.0,672.8 189.0,672.6 190.0,672.6 190.0,672.8 191.0,672.8 191.0,673.2 192.0,673.2 192.0,673.0 193.0,673.0 193.0,672.3 194.0,672.3 194.0,672.1 195.0,672.1 195.0,673.3 196.0,673.3 196.0,672.6 197.0,672.6 197.0,672.3 198.0,672.3 198.0,673.3 199.0,673.3 199.0,672.0 200.0,672.0 200.0,673.2 201.0,673.2 201.0,672.5 202.0,672.5 202.0,672.6 203.0,672.6 203.0,672.5 204.0,672.5 204.0,673.0 205.0,673.0 205.0,672.9 206.0,672.9 206.0,672.7 207.0,672.7 207.0,672.9 208.0,672.9 208.0,672.7 209.0,672.7 209.0,672.9 210.0,672.9 210.0,673.0 211.0,673.0 211.0,673.4 212.0,673.4 212.0,672.9 213.0,672.9 213.0,673.0 214.0,673.0 214.0,673.2 215.0,673.2 215.0,672.9 216.0,672.9 216.0,672.9 217.0,672.9 217.0,673.1 218.0,673.1 218.0,673.3 219.0,673.3 219.0,673.2 220.0,673.2 220.0,674.0" fill="#000"/>
<path d="M52.0,525.9V674.0" fill="none" stroke="#000" stroke-width="1.5"/>
<path d="M51.2,674.0H254.3" fill="none" stroke="#000" stroke-width="1.8"/>
<path d="M49.0,525.9H52.0M52.0,674.0V677.3M49.0,562.9H52.0M102.6,674.0V677.3M49.0,600.0H52.0M153.2,674.0V677.3M49.0,637.0H52.0M203.7,674.0V677.3M49.0,674.0H52.0M254.3,674.0V677.3" fill="none" stroke="#000" stroke-width="1.4"/>
<path d="M67.2,674.0V676.0M76.1,674.0V676.0M82.4,674.0V676.0M87.4,674.0V676.0M91.4,674.0V676.0M94.7,674.0V676.0M97.7,674.0V676.0M100.3,674.0V676.0M117.8,674.0V676.0M126.7,674.0V676.0M133.0,674.0V676.0M137.9,674.0V676.0M141.9,674.0V676.0M145.3,674.0V676.0M148.2,674.0V676.0M150.8,674.0V676.0M168.4,674.0V676.0M177.3,674.0V676.0M183.6,674.0V676.0M188.5,674.0V676.0M192.5,674.0V676.0M195.9,674.0V676.0M198.8,674.0V676.0M201.4,674.0V676.0M218.9,674.0V676.0M227.9,674.0V676.0M234.2,674.0V676.0M239.1,674.0V676.0M243.1,674.0V676.0M246.5,674.0V676.0M249.4,674.0V676.0M252.0,674.0V676.0" fill="none" stroke="#000" stroke-width="1.0" opacity="0.8"/>
<polygon points="380.0,151.0 380.5,150.3 381.0,150.3 381.5,150.2 382.0,150.2 382.5,150.5 383.0,150.5 383.5,149.9 384.0,149.9 384.5,150.3 385.0,150.3 386.0,150.2 386.5,150.0 387.1,150.0 387.6,149.1 388.1,149.1 389.2,149.5 390.0,143.1 391.5,145.8 393.1,141.9 394.2,135.8 395.8,135.0 397.3,131.2 398.5,128.8 399.6,124.0 400.8,115.6 402.5,110.2 404.2,103.5 405.9,96.7 407.6,94.0 408.3,86.0 408.6,77.9 409.6,77.9 410.2,79.6 411.9,73.8 413.8,64.6 414.6,64.6 416.0,66.9 416.6,66.8 417.1,66.8 418.3,66.3 420.0,63.5 421.7,58.8 422.3,57.1 422.9,57.1 424.0,56.5 424.7,51.3 425.7,51.3 426.3,56.5 427.5,64.6 428.1,73.8 429.8,81.9 431.5,88.8 432.7,96.9 434.4,107.3 436.1,116.5 437.3,121.2 438.0,127.3 438.8,127.3 440.2,132.7 440.8,136.3 441.5,136.3 442.1,139.1 442.7,139.1 444.0,142.3 444.6,143.3 445.3,143.3 445.9,145.5 446.6,145.5 447.9,147.1 448.5,147.3 449.0,147.3 449.6,148.6 450.1,148.6 450.7,147.8 451.2,147.8 451.8,149.3 452.4,149.3 452.9,149.9 453.5,149.9 454.6,149.6 455.1,150.1 455.6,150.1 456.2,150.4 456.7,150.4 457.2,149.6 457.7,149.6 458.3,150.9 458.8,150.9 459.3,150.4 459.8,150.4 460.3,151.2 460.9,151.2 461.4,151.3 461.9,151.3 462.4,150.4 463.0,150.4 464.0,151.0" fill="#000"/>
<polygon points="393.5,151.2 395.4,145.8 396.5,141.9 397.0,140.4 397.5,140.4 398.5,138.1 400.0,132.7 401.5,129.0 403.0,125.0 403.6,123.6 404.2,123.6 405.5,121.0 406.0,117.7 406.5,117.7 407.5,115.6 409.2,109.6 410.1,103.5 410.3,97.0 411.3,97.0 412.5,101.5 413.1,100.7 413.6,100.7 414.8,100.4 415.5,97.3 416.2,97.3 417.7,93.4 417.9,90.0 418.7,90.0 419.4,99.2 421.1,99.0 421.2,83.1 422.2,83.1 422.9,94.6 424.8,94.0 424.9,91.1 425.7,91.1 426.9,98.1 428.6,102.7 429.8,109.6 431.5,121.2 432.1,124.6 432.8,124.6 433.4,129.4 434.1,129.4 435.4,132.7 436.0,135.6 436.7,135.6 437.3,139.5 437.9,139.5 439.2,142.3 439.8,143.7 440.4,143.7 441.0,146.2 441.6,146.2 442.2,148.7 442.8,148.7 444.0,150.0 444.5,151.2" fill="#828282"/>
<polygon points="348.0,151.6 348.0,150.9 349.0,150.9 349.0,150.9 350.0,150.9 350.0,150.8 351.0,150.8 351.0,150.8 352.0,150.8 352.0,151.0 353.0,151.0 353.0,150.9 354.0,150.9 354.0,150.9 355.0,150.9 355.0,150.4 356.0,150.4 356.0,150.5 357.0,150.5 357.0,150.3 358.0,150.3 358.0,150.9 359.0,150.9 359.0,150.3 360.0,150.3 360.0,150.9 361.0,150.9 361.0,150.5 362.0,150.5 362.0,150.4 363.0,150.4 363.0,150.6 364.0,150.6 364.0,150.1 365.0,150.1 365.0,150.4 366.0,150.4 366.0,150.3 367.0,150.3 367.0,150.0 368.0,150.0 368.0,150.9 369.0,150.9 369.0,149.8 370.0,149.8 370.0,150.2 371.0,150.2 371.0,150.5 372.0,150.5 372.0,149.9 373.0,149.9 373.0,150.6 374.0,150.6 374.0,149.6 375.0,149.6 375.0,150.1 376.0,150.1 376.0,150.4 377.0,150.4 377.0,149.8 378.0,149.8 378.0,150.3 379.0,150.3 379.0,150.7 380.0,150.7 380.0,149.9 381.0,149.9 381.0,150.9 382.0,150.9 382.0,149.8 383.0,149.8 383.0,150.6 384.0,150.6 384.0,150.0 385.0,150.0 385.0,149.5 386.0,149.5 386.0,150.1 387.0,150.1 387.0,150.0 388.0,150.0 388.0,150.5 389.0,150.5 389.0,151.0 390.0,151.0 390.0,150.9 391.0,150.9 391.0,150.8 392.0,150.8 392.0,150.1 393.0,150.1 393.0,150.4 394.0,150.4 394.0,150.2 395.0,150.2 395.0,149.7 396.0,149.7 396.0,150.8 397.0,150.8 397.0,150.7 398.0,150.7 398.0,150.0 399.0,150.0 399.0,151.0 400.0,151.0 400.0,151.0 401.0,151.0 401.0,150.5 402.0,150.5 402.0,150.8 403.0,150.8 403.0,150.5 404.0,150.5 404.0,150.7 405.0,150.7 405.0,150.1 406.0,150.1 406.0,150.1 407.0,150.1 407.0,150.7 408.0,150.7 408.0,150.1 409.0,150.1 409.0,150.3 410.0,150.3 410.0,150.8 411.0,150.8 411.0,149.6 412.0,149.6 412.0,150.6 413.0,150.6 413.0,150.8 414.0,150.8 414.0,150.9 415.0,150.9 415.0,150.0 416.0,150.0 416.0,149.7 417.0,149.7 417.0,149.8 418.0,149.8 418.0,150.4 419.0,150.4 419.0,150.6 420.0,150.6 420.0,151.0 421.0,151.0 421.0,150.0 422.0,150.0 422.0,150.2 423.0,150.2 423.0,150.5 424.0,150.5 424.0,150.0 425.0,150.0 425.0,150.3 426.0,150.3 426.0,149.6 427.0,149.6 427.0,149.9 428.0,149.9 428.0,150.6 429.0,150.6 429.0,149.6 430.0,149.6 430.0,150.9 431.0,150.9 431.0,150.2 432.0,150.2 432.0,150.4 433.0,150.4 433.0,150.6 434.0,150.6 434.0,150.9 435.0,150.9 435.0,149.8 436.0,149.8 436.0,151.0 437.0,151.0 437.0,150.2 438.0,150.2 438.0,149.6 439.0,149.6 439.0,150.8 440.0,150.8 440.0,150.7 441.0,150.7 441.0,150.1 442.0,150.1 442.0,150.2 443.0,150.2 443.0,150.0 444.0,150.0 444.0,149.8 445.0,149.8 445.0,150.7 446.0,150.7 446.0,150.5 447.0,150.5 447.0,150.5 448.0,150.5 448.0,150.9 449.0,150.9 449.0,149.7 450.0,149.7 450.0,149.8 451.0,149.8 451.0,149.9 452.0,149.9 452.0,151.0 453.0,151.0 453.0,149.7 454.0,149.7 454.0,149.9 455.0,149.9 455.0,150.3 456.0,150.3 456.0,149.9 457.0,149.9 457.0,150.3 458.0,150.3 458.0,150.7 459.0,150.7 459.0,150.8 460.0,150.8 460.0,150.7 461.0,150.7 461.0,150.9 462.0,150.9 462.0,150.5 463.0,150.5 463.0,149.9 464.0,149.9 464.0,150.0 465.0,150.0 465.0,149.6 466.0,149.6 466.0,149.9 467.0,149.9 467.0,150.6 468.0,150.6 468.0,150.2 469.0,150.2 469.0,150.4 470.0,150.4 470.0,149.9 471.0,149.9 471.0,150.3 472.0,150.3 472.0,150.7 473.0,150.7 473.0,150.3 474.0,150.3 474.0,149.9 475.0,149.9 475.0,150.8 476.0,150.8 476.0,150.1 477.0,150.1 477.0,151.0 478.0,151.0 478.0,150.8 479.0,150.8 479.0,150.8 480.0,150.8 480.0,150.4 481.0,150.4 481.0,150.3 482.0,150.3 482.0,150.5 483.0,150.5 483.0,150.8 484.0,150.8 484.0,150.5 485.0,150.5 485.0,150.8 486.0,150.8 486.0,151.6" fill="#000"/>
<path d="M309.0,6.0V151.6" fill="none" stroke="#000" stroke-width="1.5"/>
<path d="M308.2,151.6H514.7" fill="none" stroke="#000" stroke-width="1.8"/>
<path d="M306.0,6.0H309.0M309.0,151.6V154.9M306.0,42.4H309.0M360.4,151.6V154.9M306.0,78.8H309.0M411.9,151.6V154.9M306.0,115.2H309.0M463.3,151.6V154.9M306.0,151.6H309.0M514.7,151.6V154.9" fill="none" stroke="#000" stroke-width="1.4"/>
<path d="M324.5,151.6V153.6M333.5,151.6V153.6M340.0,151.6V153.6M344.9,151.6V153.6M349.0,151.6V153.6M352.5,151.6V153.6M355.4,151.6V153.6M358.1,151.6V153.6M375.9,151.6V153.6M385.0,151.6V153.6M391.4,151.6V153.6M396.4,151.6V153.6M400.4,151.6V153.6M403.9,151.6V153.6M406.9,151.6V153.6M409.5,151.6V153.6M427.3,151.6V153.6M436.4,151.6V153.6M442.8,151.6V153.6M447.8,151.6V153.6M451.9,151.6V153.6M455.3,151.6V153.6M458.3,151.6V153.6M460.9,151.6V153.6M478.8,151.6V153.6M487.8,151.6V153.6M494.2,151.6V153.6M499.2,151.6V153.6M503.3,151.6V153.6M506.7,151.6V153.6M509.7,151.6V153.6M512.3,151.6V153.6" fill="none" stroke="#000" stroke-width="1.0" opacity="0.8"/>
<polygon points="343.0,323.2 343.5,322.4 344.0,322.4 345.0,322.4 345.6,322.8 346.1,322.8 346.7,322.2 347.3,322.2 347.9,322.1 348.4,322.1 349.0,321.8 349.6,321.8 350.2,322.1 350.8,322.1 351.9,321.2 352.5,321.2 353.0,321.2 353.6,321.7 354.2,321.7 354.8,321.5 355.4,321.5 356.5,321.2 357.1,320.2 357.7,320.2 358.2,318.0 358.8,318.0 360.0,316.6 360.6,315.9 361.2,315.9 361.8,314.8 362.3,314.8 363.5,313.7 364.1,312.9 364.6,312.9 365.2,312.2 365.8,312.2 366.9,312.0 367.6,310.5 368.4,310.5 369.8,308.6 370.4,306.8 371.0,306.8 372.1,306.2 372.6,298.5 373.6,298.5 374.4,305.1 376.1,302.8 377.9,301.1 378.6,300.8 379.4,300.8 380.8,299.3 381.4,297.7 382.0,297.7 383.1,297.0 384.6,287.0 385.7,287.0 386.5,292.4 387.1,290.6 387.6,290.6 388.8,290.1 390.5,284.8 391.5,285.0 392.3,290.1 393.4,286.6 394.0,283.2 394.5,283.2 395.7,280.9 396.3,279.8 396.9,279.8 398.1,277.4 399.8,271.6 401.5,266.5 403.2,268.2 405.0,270.5 406.5,267.0 407.1,266.4 407.7,266.4 408.2,265.8 408.8,265.8 410.0,266.0 411.5,275.4 412.1,274.0 412.7,274.0 413.2,273.2 413.8,273.2 415.0,273.1 416.7,277.3 417.3,279.6 417.8,279.6 418.4,281.5 419.0,281.5 420.1,283.3 420.7,285.4 421.2,285.4 421.8,287.2 422.4,287.2 423.5,288.7 424.1,290.4 424.6,290.4 425.2,293.4 425.8,293.4 426.9,295.5 427.4,297.1 428.0,297.1 428.5,299.5 429.1,299.5 430.2,300.9 430.9,303.4 431.5,303.4 432.9,305.0 433.6,307.3 434.4,307.3 435.8,308.5 437.5,313.4 439.2,318.0 439.8,318.6 440.4,318.6 441.5,320.4 442.1,320.5 442.7,320.5 443.2,320.2 443.8,320.2 445.0,319.2 446.1,322.1 447.0,323.2" fill="#828282" stroke="#000" stroke-width="2.2" stroke-linejoin="round"/>
<polygon points="392.0,323.2 392.6,319.7 393.3,319.7 394.6,315.0 395.2,311.0 395.8,311.0 396.9,308.1 397.5,304.2 398.0,304.2 399.2,301.1 399.8,296.6 400.4,296.6 401.5,293.1 403.2,287.3 405.0,281.5 406.3,276.0 406.2,262.0 407.7,258.2 408.8,257.5 408.8,249.7 410.0,249.7 410.0,256.6 410.6,254.1 411.1,254.1 412.3,253.0 412.3,243.5 413.8,243.5 413.8,250.0 415.4,242.8 416.5,240.5 416.9,240.5 416.9,228.5 418.1,228.5 418.1,242.0 418.5,242.0 419.2,240.0 419.2,236.2 420.8,236.2 420.8,240.0 421.9,240.0 421.9,218.5 423.5,218.5 423.5,240.0 423.8,240.0 423.8,233.5 424.3,234.0 424.8,234.0 425.4,233.9 425.9,233.9 426.9,233.5 426.9,247.4 427.5,248.7 428.0,248.7 429.2,249.7 430.4,255.1 430.6,261.5 432.3,268.5 432.9,273.6 433.5,273.6 434.6,277.7 435.2,281.9 435.8,281.9 436.9,285.8 437.5,289.5 438.0,289.5 439.2,293.8 439.8,297.3 440.4,297.3 441.5,301.9 442.1,304.8 442.6,304.8 443.8,308.8 445.1,310.0 445.6,308.5 446.7,312.3 448.4,314.6 449.0,319.2 449.7,320.2 450.4,320.2 451.9,320.4 452.5,320.4 453.1,320.4 453.6,320.9 454.2,320.9 455.4,321.5 456.0,322.2 456.5,322.2 457.7,323.2 446.1,323.2 445.0,319.2 444.4,318.9 443.8,318.9 443.2,319.7 442.7,319.7 441.5,320.4 440.9,318.9 440.4,318.9 439.2,318.0 437.5,313.4 435.8,308.5 435.1,307.1 434.4,307.1 432.9,305.0 432.2,302.8 431.5,302.8 430.2,300.9 429.6,298.8 429.1,298.8 428.5,297.9 428.0,297.9 426.9,295.5 426.3,293.2 425.8,293.2 425.2,291.5 424.6,291.5 423.5,288.7 422.9,287.1 422.4,287.1 421.8,284.4 421.2,284.4 420.1,283.3 419.5,281.2 419.0,281.2 418.4,279.2 417.8,279.2 416.7,277.3 415.0,273.1 414.4,274.2 413.8,274.2 413.2,274.4 412.7,274.4 411.5,275.4 409.8,281.1 409.2,285.4 408.6,285.4 407.5,289.2 406.9,294.5 406.4,294.5 405.2,299.6 404.6,304.4 404.0,304.4 402.9,310.0 402.3,314.9 401.8,314.9 401.2,318.2 400.6,318.2 399.5,323.2" fill="#000"/>
<polygon points="418.1,264.4 420.0,264.0 421.5,266.0 423.5,263.8 425.5,265.0 427.5,264.4 429.6,271.9 430.2,278.6 431.6,285.3 432.6,293.4 431.6,294.1 429.6,290.0 426.9,283.3 423.5,277.3 420.5,271.0 418.5,267.5" fill="#fff"/>
<polygon points="420.3,253.0 421.6,253.0 421.8,262.5 420.4,262.5" fill="#fff"/>
<polygon points="423.4,258.5 424.7,258.5 424.8,264.5 423.5,264.5" fill="#fff"/>
<polygon points="311.0,323.8 311.0,322.9 312.0,322.9 312.0,323.1 313.0,323.1 313.0,323.2 314.0,323.2 314.0,323.1 315.0,323.1 315.0,322.8 316.0,322.8 316.0,322.6 317.0,322.6 317.0,323.2 318.0,323.2 318.0,322.9 319.0,322.9 319.0,322.8 320.0,322.8 320.0,322.6 321.0,322.6 321.0,323.1 322.0,323.1 322.0,322.8 323.0,322.8 323.0,322.9 324.0,322.9 324.0,322.4 325.0,322.4 325.0,322.9 326.0,322.9 326.0,322.2 327.0,322.2 327.0,322.9 328.0,322.9 328.0,323.0 329.0,323.0 329.0,322.4 330.0,322.4 330.0,322.6 331.0,322.6 331.0,323.1 332.0,323.1 332.0,322.4 333.0,322.4 333.0,323.1 334.0,323.1 334.0,322.1 335.0,322.1 335.0,322.2 336.0,322.2 336.0,322.1 337.0,322.1 337.0,322.3 338.0,322.3 338.0,322.7 339.0,322.7 339.0,322.6 340.0,322.6 340.0,322.6 341.0,322.6 341.0,321.8 342.0,321.8 342.0,323.1 343.0,323.1 343.0,321.9 344.0,321.9 344.0,323.2 345.0,323.2 345.0,322.9 346.0,322.9 346.0,322.8 347.0,322.8 347.0,321.8 348.0,321.8 348.0,322.4 349.0,322.4 349.0,322.6 350.0,322.6 350.0,321.9 351.0,321.9 351.0,322.8 352.0,322.8 352.0,322.5 353.0,322.5 353.0,322.4 354.0,322.4 354.0,322.1 355.0,322.1 355.0,322.1 356.0,322.1 356.0,322.2 357.0,322.2 357.0,322.7 358.0,322.7 358.0,322.7 359.0,322.7 359.0,323.0 360.0,323.0 360.0,321.9 361.0,321.9 361.0,322.2 362.0,322.2 362.0,322.1 363.0,322.1 363.0,322.9 364.0,322.9 364.0,322.5 365.0,322.5 365.0,322.0 366.0,322.0 366.0,322.3 367.0,322.3 367.0,323.0 368.0,323.0 368.0,322.5 369.0,322.5 369.0,321.9 370.0,321.9 370.0,322.8 371.0,322.8 371.0,322.9 372.0,322.9 372.0,322.7 373.0,322.7 373.0,322.1 374.0,322.1 374.0,321.9 375.0,321.9 375.0,323.0 376.0,323.0 376.0,323.0 377.0,323.0 377.0,322.8 378.0,322.8 378.0,322.7 379.0,322.7 379.0,322.4 380.0,322.4 380.0,323.0 381.0,323.0 381.0,322.7 382.0,322.7 382.0,322.9 383.0,322.9 383.0,321.7 384.0,321.7 384.0,322.1 385.0,322.1 385.0,323.0 386.0,323.0 386.0,321.8 387.0,321.8 387.0,323.0 388.0,323.0 388.0,322.6 389.0,322.6 389.0,321.7 390.0,321.7 390.0,322.0 391.0,322.0 391.0,322.1 392.0,322.1 392.0,322.5 393.0,322.5 393.0,322.9 394.0,322.9 394.0,322.2 395.0,322.2 395.0,323.0 396.0,323.0 396.0,322.9 397.0,322.9 397.0,322.6 398.0,322.6 398.0,323.1 399.0,323.1 399.0,322.6 400.0,322.6 400.0,322.0 401.0,322.0 401.0,322.2 402.0,322.2 402.0,322.4 403.0,322.4 403.0,322.3 404.0,322.3 404.0,322.5 405.0,322.5 405.0,323.0 406.0,323.0 406.0,322.3 407.0,322.3 407.0,322.6 408.0,322.6 408.0,322.1 409.0,322.1 409.0,321.8 410.0,321.8 410.0,322.6 411.0,322.6 411.0,322.3 412.0,322.3 412.0,322.1 413.0,322.1 413.0,322.6 414.0,322.6 414.0,322.9 415.0,322.9 415.0,322.1 416.0,322.1 416.0,321.9 417.0,321.9 417.0,322.0 418.0,322.0 418.0,322.1 419.0,322.1 419.0,321.9 420.0,321.9 420.0,322.2 421.0,322.2 421.0,322.2 422.0,322.2 422.0,322.5 423.0,322.5 423.0,322.7 424.0,322.7 424.0,322.3 425.0,322.3 425.0,323.1 426.0,323.1 426.0,322.6 427.0,322.6 427.0,322.0 428.0,322.0 428.0,322.1 429.0,322.1 429.0,322.3 430.0,322.3 430.0,322.8 431.0,322.8 431.0,322.6 432.0,322.6 432.0,322.5 433.0,322.5 433.0,322.3 434.0,322.3 434.0,322.6 435.0,322.6 435.0,322.2 436.0,322.2 436.0,321.8 437.0,321.8 437.0,322.9 438.0,322.9 438.0,322.2 439.0,322.2 439.0,322.0 440.0,322.0 440.0,322.6 441.0,322.6 441.0,322.5 442.0,322.5 442.0,321.7 443.0,321.7 443.0,323.1 444.0,323.1 444.0,322.4 445.0,322.4 445.0,323.0 446.0,323.0 446.0,322.0 447.0,322.0 447.0,321.8 448.0,321.8 448.0,322.4 449.0,322.4 449.0,323.0 450.0,323.0 450.0,322.3 451.0,322.3 451.0,322.4 452.0,322.4 452.0,322.1 453.0,322.1 453.0,322.4 454.0,322.4 454.0,322.2 455.0,322.2 455.0,322.0 456.0,322.0 456.0,322.4 457.0,322.4 457.0,322.6 458.0,322.6 458.0,321.6 459.0,321.6 459.0,322.9 460.0,322.9 460.0,322.1 461.0,322.1 461.0,322.6 462.0,322.6 462.0,322.1 463.0,322.1 463.0,323.0 464.0,323.0 464.0,321.9 465.0,321.9 465.0,322.7 466.0,322.7 466.0,323.1 467.0,323.1 467.0,322.9 468.0,322.9 468.0,322.8 469.0,322.8 469.0,323.2 470.0,323.2 470.0,322.8 471.0,322.8 471.0,322.8 472.0,322.8 472.0,322.6 473.0,322.6 473.0,322.9 474.0,322.9 474.0,323.0 475.0,323.0 475.0,323.0 476.0,323.0 476.0,322.7 477.0,322.7 477.0,322.7 478.0,322.7 478.0,322.9 479.0,322.9 479.0,323.1 480.0,323.1 480.0,323.8" fill="#000"/>
<path d="M310.5,174.7V323.8" fill="none" stroke="#000" stroke-width="1.5"/>
<path d="M309.7,323.8H510.8" fill="none" stroke="#000" stroke-width="1.8"/>
<path d="M307.5,174.7H310.5M310.5,323.8V327.1M307.5,212.0H310.5M360.6,323.8V327.1M307.5,249.2H310.5M410.6,323.8V327.1M307.5,286.5H310.5M460.7,323.8V327.1M307.5,323.8H310.5M510.8,323.8V327.1" fill="none" stroke="#000" stroke-width="1.4"/>
<path d="M325.6,323.8V325.8M334.4,323.8V325.8M340.6,323.8V325.8M345.5,323.8V325.8M349.5,323.8V325.8M352.8,323.8V325.8M355.7,323.8V325.8M358.3,323.8V325.8M375.6,323.8V325.8M384.5,323.8V325.8M390.7,323.8V325.8M395.6,323.8V325.8M399.5,323.8V325.8M402.9,323.8V325.8M405.8,323.8V325.8M408.4,323.8V325.8M425.7,323.8V325.8M434.5,323.8V325.8M440.8,323.8V325.8M445.7,323.8V325.8M449.6,323.8V325.8M453.0,323.8V325.8M455.9,323.8V325.8M458.4,323.8V325.8M475.8,323.8V325.8M484.6,323.8V325.8M490.9,323.8V325.8M495.7,323.8V325.8M499.7,323.8V325.8M503.0,323.8V325.8M505.9,323.8V325.8M508.5,323.8V325.8" fill="none" stroke="#000" stroke-width="1.0" opacity="0.8"/>
<polygon points="366.0,498.5 366.6,498.7 367.1,498.7 367.6,497.9 368.2,497.9 368.8,497.5 369.3,497.5 369.9,497.2 370.4,497.2 371.5,497.5 372.1,497.5 372.7,497.5 373.2,497.1 373.8,497.1 374.4,496.5 375.0,496.5 375.6,495.9 376.1,495.9 377.3,495.5 377.9,493.9 378.6,493.9 379.2,491.7 379.9,491.7 381.2,490.4 381.8,489.1 382.5,489.1 383.1,486.3 383.7,486.3 385.0,484.6 385.7,481.9 386.4,481.9 387.9,478.8 389.5,473.0 390.8,467.3 391.2,462.9 391.9,462.9 393.3,461.1 395.0,455.4 395.6,451.2 396.1,451.2 397.3,446.1 398.5,442.7 400.2,434.6 401.3,431.1 403.1,426.5 404.2,420.8 406.0,420.8 407.1,419.6 408.8,417.3 410.1,417.0 410.3,411.0 410.8,411.4 411.3,411.4 412.3,411.0 412.5,419.6 414.0,419.6 415.5,418.0 415.6,412.7 416.9,412.7 417.1,421.9 417.6,423.0 418.1,423.0 419.2,424.2 420.4,427.7 420.9,433.4 422.7,438.1 424.4,442.7 425.6,448.4 427.3,454.2 429.2,461.5 430.7,464.6 432.5,469.2 433.6,473.8 434.2,476.5 434.7,476.5 435.2,479.8 435.8,479.8 436.9,482.7 437.5,484.7 438.2,484.7 438.9,488.3 439.5,488.3 440.8,490.4 441.4,491.5 442.1,491.5 442.7,493.4 443.3,493.4 444.6,494.2 445.2,494.3 445.8,494.3 446.3,494.9 446.9,494.9 447.5,495.2 448.1,495.2 448.7,495.9 449.2,495.9 450.4,496.5 451.0,496.5 451.5,496.5 452.1,496.6 452.6,496.6 453.2,498.0 453.8,498.0 454.3,497.8 454.9,497.8 456.0,498.5" fill="#000"/>
<polygon points="389.5,498.5 390.5,492.0 391.7,488.5 392.2,486.0 392.8,486.0 393.4,484.0 393.9,484.0 395.0,482.2 396.5,471.2 397.2,468.3 397.9,468.3 399.4,465.4 401.3,461.0 403.1,461.1 404.8,451.9 406.0,450.7 406.6,450.7 406.8,443.8 408.3,443.8 408.6,449.6 409.1,448.3 409.6,448.3 410.6,447.3 411.3,446.1 412.1,446.1 412.3,453.1 412.9,453.3 413.5,453.3 414.6,453.1 415.8,451.0 416.0,445.0 417.6,445.0 418.0,446.1 418.6,453.1 419.8,456.5 421.5,460.0 423.3,464.6 425.0,469.2 426.7,475.0 428.4,479.9 429.1,482.5 429.8,482.5 431.2,484.6 431.8,487.0 432.5,487.0 433.1,490.3 433.7,490.3 435.0,492.3 435.6,494.9 436.3,494.9 436.9,495.8 437.5,495.8 438.8,498.5" fill="#828282"/>
<polygon points="377.5,496.2 378.0,495.7 378.5,495.7 379.1,494.9 379.6,494.9 380.1,493.7 380.6,493.7 381.1,491.9 381.6,491.9 382.2,491.9 382.7,491.9 383.2,490.7 383.7,490.7 384.2,488.9 384.8,488.9 385.8,488.6 387.2,490.0 386.6,490.3 386.1,490.3 385.6,492.6 385.0,492.6 384.4,493.2 383.9,493.2 383.4,493.7 382.8,493.7 382.2,494.4 381.7,494.4 381.1,495.5 380.6,495.5 379.5,497.0 379.0,496.2 378.5,496.2" fill="#828282"/>
<polygon points="334.0,499.0 334.0,498.1 335.0,498.1 335.0,498.2 336.0,498.2 336.0,498.3 337.0,498.3 337.0,497.9 338.0,497.9 338.0,498.0 339.0,498.0 339.0,498.3 340.0,498.3 340.0,497.8 341.0,497.8 341.0,498.0 342.0,498.0 342.0,497.8 343.0,497.8 343.0,497.9 344.0,497.9 344.0,497.7 345.0,497.7 345.0,497.7 346.0,497.7 346.0,497.7 347.0,497.7 347.0,498.2 348.0,498.2 348.0,497.7 349.0,497.7 349.0,497.9 350.0,497.9 350.0,497.6 351.0,497.6 351.0,497.9 352.0,497.9 352.0,497.4 353.0,497.4 353.0,497.7 354.0,497.7 354.0,498.1 355.0,498.1 355.0,498.1 356.0,498.1 356.0,498.2 357.0,498.2 357.0,497.7 358.0,497.7 358.0,498.3 359.0,498.3 359.0,497.7 360.0,497.7 360.0,498.2 361.0,498.2 361.0,497.7 362.0,497.7 362.0,497.6 363.0,497.6 363.0,497.5 364.0,497.5 364.0,497.0 365.0,497.0 365.0,498.4 366.0,498.4 366.0,497.1 367.0,497.1 367.0,497.7 368.0,497.7 368.0,497.6 369.0,497.6 369.0,497.4 370.0,497.4 370.0,497.1 371.0,497.1 371.0,497.8 372.0,497.8 372.0,497.8 373.0,497.8 373.0,497.0 374.0,497.0 374.0,498.3 375.0,498.3 375.0,497.4 376.0,497.4 376.0,497.4 377.0,497.4 377.0,498.4 378.0,498.4 378.0,497.5 379.0,497.5 379.0,497.4 380.0,497.4 380.0,497.0 381.0,497.0 381.0,497.9 382.0,497.9 382.0,496.9 383.0,496.9 383.0,497.6 384.0,497.6 384.0,497.7 385.0,497.7 385.0,497.1 386.0,497.1 386.0,498.3 387.0,498.3 387.0,497.3 388.0,497.3 388.0,497.5 389.0,497.5 389.0,497.9 390.0,497.9 390.0,497.1 391.0,497.1 391.0,497.9 392.0,497.9 392.0,497.7 393.0,497.7 393.0,497.6 394.0,497.6 394.0,497.2 395.0,497.2 395.0,498.1 396.0,498.1 396.0,497.7 397.0,497.7 397.0,497.8 398.0,497.8 398.0,497.6 399.0,497.6 399.0,497.2 400.0,497.2 400.0,498.0 401.0,498.0 401.0,497.2 402.0,497.2 402.0,497.8 403.0,497.8 403.0,497.6 404.0,497.6 404.0,498.0 405.0,498.0 405.0,497.6 406.0,497.6 406.0,496.9 407.0,496.9 407.0,497.4 408.0,497.4 408.0,497.2 409.0,497.2 409.0,497.9 410.0,497.9 410.0,497.9 411.0,497.9 411.0,498.0 412.0,498.0 412.0,497.5 413.0,497.5 413.0,497.4 414.0,497.4 414.0,497.2 415.0,497.2 415.0,498.3 416.0,498.3 416.0,497.3 417.0,497.3 417.0,497.1 418.0,497.1 418.0,497.6 419.0,497.6 419.0,498.3 420.0,498.3 420.0,497.9 421.0,497.9 421.0,498.4 422.0,498.4 422.0,498.1 423.0,498.1 423.0,497.0 424.0,497.0 424.0,497.5 425.0,497.5 425.0,497.4 426.0,497.4 426.0,497.2 427.0,497.2 427.0,497.0 428.0,497.0 428.0,497.5 429.0,497.5 429.0,497.5 430.0,497.5 430.0,497.5 431.0,497.5 431.0,497.4 432.0,497.4 432.0,497.5 433.0,497.5 433.0,497.4 434.0,497.4 434.0,498.1 435.0,498.1 435.0,497.4 436.0,497.4 436.0,497.7 437.0,497.7 437.0,497.3 438.0,497.3 438.0,498.2 439.0,498.2 439.0,498.1 440.0,498.1 440.0,498.3 441.0,498.3 441.0,497.2 442.0,497.2 442.0,497.0 443.0,497.0 443.0,497.4 444.0,497.4 444.0,497.8 445.0,497.8 445.0,497.2 446.0,497.2 446.0,497.2 447.0,497.2 447.0,497.6 448.0,497.6 448.0,498.0 449.0,498.0 449.0,497.9 450.0,497.9 450.0,497.8 451.0,497.8 451.0,497.9 452.0,497.9 452.0,497.8 453.0,497.8 453.0,497.4 454.0,497.4 454.0,497.0 455.0,497.0 455.0,498.3 456.0,498.3 456.0,497.5 457.0,497.5 457.0,498.3 458.0,498.3 458.0,498.2 459.0,498.2 459.0,497.2 460.0,497.2 460.0,497.6 461.0,497.6 461.0,497.1 462.0,497.1 462.0,497.8 463.0,497.8 463.0,498.4 464.0,498.4 464.0,497.9 465.0,497.9 465.0,497.7 466.0,497.7 466.0,497.4 467.0,497.4 467.0,497.4 468.0,497.4 468.0,497.9 469.0,497.9 469.0,498.0 470.0,498.0 470.0,498.3 471.0,498.3 471.0,497.9 472.0,497.9 472.0,498.2 473.0,498.2 473.0,498.3 474.0,498.3 474.0,498.4 475.0,498.4 475.0,498.4 476.0,498.4 476.0,498.0 477.0,498.0 477.0,498.3 478.0,498.3 478.0,499.0" fill="#000"/>
<path d="M308.0,353.0V499.0" fill="none" stroke="#000" stroke-width="1.5"/>
<path d="M307.2,499.0H509.4" fill="none" stroke="#000" stroke-width="1.8"/>
<path d="M305.0,353.0H308.0M308.0,499.0V502.3M305.0,389.5H308.0M358.4,499.0V502.3M305.0,426.0H308.0M408.7,499.0V502.3M305.0,462.5H308.0M459.0,499.0V502.3M305.0,499.0H308.0M509.4,499.0V502.3" fill="none" stroke="#000" stroke-width="1.4"/>
<path d="M323.2,499.0V501.0M332.0,499.0V501.0M338.3,499.0V501.0M343.2,499.0V501.0M347.2,499.0V501.0M350.6,499.0V501.0M353.5,499.0V501.0M356.0,499.0V501.0M373.5,499.0V501.0M382.4,499.0V501.0M388.7,499.0V501.0M393.5,499.0V501.0M397.5,499.0V501.0M400.9,499.0V501.0M403.8,499.0V501.0M406.4,499.0V501.0M423.9,499.0V501.0M432.7,499.0V501.0M439.0,499.0V501.0M443.9,499.0V501.0M447.9,499.0V501.0M451.3,499.0V501.0M454.2,499.0V501.0M456.7,499.0V501.0M474.2,499.0V501.0M483.1,499.0V501.0M489.4,499.0V501.0M494.2,499.0V501.0M498.2,499.0V501.0M501.6,499.0V501.0M504.5,499.0V501.0M507.1,499.0V501.0" fill="none" stroke="#000" stroke-width="1.0" opacity="0.8"/>
<polygon points="379.0,673.3 379.6,673.3 380.2,673.3 381.5,672.0 383.3,667.3 384.0,665.9 384.7,665.9 386.1,665.6 387.6,659.5 388.1,659.3 388.6,659.3 389.6,658.1 391.3,653.4 393.1,648.8 394.8,643.1 396.5,637.3 398.3,631.5 400.0,625.8 401.2,623.0 401.9,622.0 402.6,622.0 404.0,622.0 404.5,621.8 405.0,621.8 405.5,623.3 406.0,623.3 406.5,623.1 407.0,623.1 408.0,624.0 408.5,625.3 409.0,625.3 410.0,626.0 410.5,625.1 411.0,625.1 412.0,625.0 412.3,615.4 413.5,615.4 413.9,623.1 414.5,622.1 415.0,622.1 415.6,622.8 416.2,622.8 417.3,622.1 418.8,615.4 420.2,610.6 422.1,610.6 422.1,619.7 423.9,622.1 425.7,628.0 427.5,635.1 429.3,642.3 431.0,649.4 432.8,656.5 433.4,659.7 434.0,659.7 435.2,662.4 437.0,667.2 438.8,672.0 439.5,673.3" fill="#828282" stroke="#000" stroke-width="1.8" stroke-linejoin="round"/>
<polygon points="390.8,673.3 391.4,669.0 392.0,669.0 393.1,663.8 394.8,658.1 396.5,651.1 398.3,643.1 400.0,637.3 401.1,631.5 401.6,627.5 400.9,623.5 401.4,620.2 401.9,620.2 402.9,616.3 403.5,612.9 404.1,612.9 405.3,610.6 407.2,603.8 407.8,597.1 409.2,597.1 410.1,602.9 412.0,600.0 412.6,592.8 414.0,592.8 414.9,595.2 415.4,580.3 416.9,580.3 417.8,587.5 419.6,587.0 419.8,583.2 421.7,583.2 422.6,590.4 424.5,599.5 425.1,601.5 425.7,601.5 426.9,603.1 428.7,605.4 429.8,614.9 430.4,622.1 432.2,629.2 434.0,637.5 435.8,644.6 436.4,648.5 437.0,648.5 438.2,651.8 439.5,650.0 440.5,658.9 441.1,662.4 441.7,662.4 442.9,666.0 443.4,667.8 443.9,667.8 444.4,668.1 444.9,668.1 445.9,669.6 446.5,670.9 447.1,670.9 447.7,671.1 448.2,671.1 448.8,670.7 449.4,670.7 450.6,672.0 451.1,671.5 451.6,671.5 452.1,672.6 452.6,672.6 453.1,673.1 453.6,673.1 454.1,672.3 454.6,672.3 455.1,672.8 455.6,672.8 456.6,673.3 438.8,673.3 437.0,667.2 435.2,662.4 434.6,659.8 434.0,659.8 432.8,656.5 431.0,649.4 429.3,642.3 427.5,635.1 425.7,628.0 423.9,622.1 422.1,619.7 422.1,610.6 420.2,610.6 418.8,615.4 417.3,622.1 416.7,622.0 416.2,622.0 415.6,623.3 415.0,623.3 413.9,623.1 413.5,615.4 412.3,615.4 412.0,625.0 411.5,625.5 411.0,625.5 410.0,626.0 409.5,626.9 409.0,626.9 408.0,629.0 406.9,630.0 405.2,633.8 403.4,640.8 401.7,646.5 400.0,653.4 398.3,659.2 397.7,662.5 397.1,662.5 396.0,666.1 394.2,673.3" fill="#000"/>
<polygon points="347.0,674.2 347.0,673.4 348.0,673.4 348.0,673.4 349.0,673.4 349.0,673.3 350.0,673.3 350.0,673.5 351.0,673.5 351.0,673.2 352.0,673.2 352.0,673.4 353.0,673.4 353.0,673.2 354.0,673.2 354.0,673.2 355.0,673.2 355.0,673.3 356.0,673.3 356.0,673.3 357.0,673.3 357.0,673.0 358.0,673.0 358.0,672.8 359.0,672.8 359.0,672.9 360.0,672.9 360.0,673.1 361.0,673.1 361.0,673.3 362.0,673.3 362.0,673.5 363.0,673.5 363.0,672.6 364.0,672.6 364.0,672.8 365.0,672.8 365.0,672.7 366.0,672.7 366.0,673.2 367.0,673.2 367.0,672.9 368.0,672.9 368.0,672.4 369.0,672.4 369.0,672.5 370.0,672.5 370.0,672.8 371.0,672.8 371.0,673.2 372.0,673.2 372.0,673.0 373.0,673.0 373.0,672.3 374.0,672.3 374.0,673.0 375.0,673.0 375.0,672.5 376.0,672.5 376.0,672.7 377.0,672.7 377.0,672.1 378.0,672.1 378.0,672.3 379.0,672.3 379.0,673.2 380.0,673.2 380.0,673.6 381.0,673.6 381.0,673.2 382.0,673.2 382.0,673.0 383.0,673.0 383.0,672.7 384.0,672.7 384.0,672.4 385.0,672.4 385.0,672.3 386.0,672.3 386.0,673.5 387.0,673.5 387.0,672.4 388.0,672.4 388.0,672.4 389.0,672.4 389.0,672.3 390.0,672.3 390.0,672.7 391.0,672.7 391.0,673.2 392.0,673.2 392.0,672.3 393.0,672.3 393.0,672.4 394.0,672.4 394.0,672.6 395.0,672.6 395.0,672.2 396.0,672.2 396.0,673.1 397.0,673.1 397.0,673.5 398.0,673.5 398.0,672.8 399.0,672.8 399.0,672.4 400.0,672.4 400.0,673.3 401.0,673.3 401.0,672.5 402.0,672.5 402.0,672.2 403.0,672.2 403.0,673.2 404.0,673.2 404.0,672.7 405.0,672.7 405.0,672.6 406.0,672.6 406.0,672.9 407.0,672.9 407.0,673.3 408.0,673.3 408.0,673.2 409.0,673.2 409.0,672.5 410.0,672.5 410.0,672.4 411.0,672.4 411.0,672.9 412.0,672.9 412.0,673.5 413.0,673.5 413.0,672.4 414.0,672.4 414.0,672.4 415.0,672.4 415.0,673.3 416.0,673.3 416.0,672.7 417.0,672.7 417.0,672.3 418.0,672.3 418.0,672.3 419.0,672.3 419.0,672.8 420.0,672.8 420.0,672.9 421.0,672.9 421.0,672.7 422.0,672.7 422.0,673.3 423.0,673.3 423.0,673.3 424.0,673.3 424.0,673.3 425.0,673.3 425.0,672.5 426.0,672.5 426.0,673.1 427.0,673.1 427.0,672.8 428.0,672.8 428.0,673.0 429.0,673.0 429.0,672.8 430.0,672.8 430.0,673.4 431.0,673.4 431.0,673.5 432.0,673.5 432.0,672.1 433.0,672.1 433.0,673.0 434.0,673.0 434.0,673.4 435.0,673.4 435.0,672.7 436.0,672.7 436.0,672.4 437.0,672.4 437.0,673.4 438.0,673.4 438.0,672.7 439.0,672.7 439.0,673.1 440.0,673.1 440.0,672.8 441.0,672.8 441.0,673.6 442.0,673.6 442.0,673.5 443.0,673.5 443.0,672.1 444.0,672.1 444.0,672.3 445.0,672.3 445.0,672.9 446.0,672.9 446.0,672.7 447.0,672.7 447.0,673.2 448.0,673.2 448.0,672.4 449.0,672.4 449.0,673.0 450.0,673.0 450.0,672.2 451.0,672.2 451.0,672.4 452.0,672.4 452.0,672.4 453.0,672.4 453.0,672.2 454.0,672.2 454.0,673.2 455.0,673.2 455.0,673.5 456.0,673.5 456.0,673.3 457.0,673.3 457.0,673.3 458.0,673.3 458.0,673.5 459.0,673.5 459.0,673.5 460.0,673.5 460.0,672.8 461.0,672.8 461.0,672.3 462.0,672.3 462.0,673.0 463.0,673.0 463.0,672.3 464.0,672.3 464.0,672.5 465.0,672.5 465.0,673.5 466.0,673.5 466.0,672.9 467.0,672.9 467.0,673.2 468.0,673.2 468.0,673.5 469.0,673.5 469.0,672.7 470.0,672.7 470.0,673.4 471.0,673.4 471.0,673.1 472.0,673.1 472.0,673.1 473.0,673.1 473.0,672.9 474.0,672.9 474.0,673.2 475.0,673.2 475.0,673.4 476.0,673.4 476.0,673.4 477.0,673.4 477.0,673.5 478.0,673.5 478.0,673.2 479.0,673.2 479.0,674.2" fill="#000"/>
<path d="M309.0,529.4V674.2" fill="none" stroke="#000" stroke-width="1.5"/>
<path d="M308.2,674.2H513.5" fill="none" stroke="#000" stroke-width="1.8"/>
<path d="M306.0,529.4H309.0M309.0,674.2V677.5M306.0,565.6H309.0M360.1,674.2V677.5M306.0,601.8H309.0M411.2,674.2V677.5M306.0,638.0H309.0M462.4,674.2V677.5M306.0,674.2H309.0M513.5,674.2V677.5" fill="none" stroke="#000" stroke-width="1.4"/>
<path d="M324.4,674.2V676.2M333.4,674.2V676.2M339.8,674.2V676.2M344.7,674.2V676.2M348.8,674.2V676.2M352.2,674.2V676.2M355.2,674.2V676.2M357.8,674.2V676.2M375.5,674.2V676.2M384.5,674.2V676.2M390.9,674.2V676.2M395.9,674.2V676.2M399.9,674.2V676.2M403.3,674.2V676.2M406.3,674.2V676.2M408.9,674.2V676.2M426.6,674.2V676.2M435.6,674.2V676.2M442.0,674.2V676.2M447.0,674.2V676.2M451.0,674.2V676.2M454.5,674.2V676.2M457.4,674.2V676.2M460.0,674.2V676.2M477.8,674.2V676.2M486.8,674.2V676.2M493.2,674.2V676.2M498.1,674.2V676.2M502.2,674.2V676.2M505.6,674.2V676.2M508.5,674.2V676.2M511.2,674.2V676.2" fill="none" stroke="#000" stroke-width="1.0" opacity="0.8"/>
<text x="265.4" y="20.8" font-size="20.0" text-anchor="end">Untreated</text>
<text x="265.8" y="43.3" font-size="15.5" text-anchor="end">R=1.04</text>
<text x="502.5" y="26.9" font-size="20.0" text-anchor="end">PSC 833</text>
<text x="502.0" y="50.4" font-size="15.6" text-anchor="end">R=1.03</text>
<text x="255.8" y="223.8" font-size="15.5" text-anchor="end">R=1.25</text>
<text x="514.5" y="226.2" font-size="15.6" text-anchor="end">R=1.32</text>
<text x="253.6" y="370.4" font-size="20.0" text-anchor="end">AraC</text>
<text x="255.0" y="393.5" font-size="15.6" text-anchor="end">R=1.50</text>
<text x="511.6" y="370.9" font-size="20.0" text-anchor="end">AraC+PSC 833</text>
<text x="512.0" y="394.5" font-size="15.6" text-anchor="end">R=1.05</text>
<text x="260.8" y="546.0" font-size="21.0" text-anchor="end">DAU</text>
<text x="258.5" y="567.7" font-size="15.6" text-anchor="end">R=1.62</text>
<text x="513.6" y="550.4" font-size="20.0" text-anchor="end">DAU+PSC 833</text>
<text x="513.6" y="572.0" font-size="15.6" text-anchor="end">R=1.08</text>
<text x="256.75" y="203" font-size="19.9" text-anchor="end"><tspan font-style="italic">in vivo</tspan>, 4 hrs</text>
<text x="513" y="205.75" font-size="20" text-anchor="end"><tspan font-style="italic">in vivo</tspan>, 16 hrs</text>
<text x="53.9" y="694.6" font-size="14.1" font-weight="bold" text-anchor="end">1</text>
<text x="105.2" y="694.6" font-size="14.1" font-weight="bold" text-anchor="end">10</text>
<text x="154.6" y="694.6" font-size="14.1" font-weight="bold" text-anchor="end">100</text>
<text x="204.4" y="694.6" font-size="14.1" font-weight="bold" text-anchor="end">1000</text>
<text x="258.1" y="694.6" font-size="14.1" font-weight="bold" text-anchor="end">10000</text>
<text x="311.7" y="696.2" font-size="14.1" font-weight="bold" text-anchor="end">1</text>
<text x="363.5" y="696.2" font-size="14.1" font-weight="bold" text-anchor="end">10</text>
<text x="416.2" y="696.2" font-size="14.1" font-weight="bold" text-anchor="end">100</text>
<text x="466.2" y="696.2" font-size="14.1" font-weight="bold" text-anchor="end">1000</text>
<text x="517.8" y="696.2" font-size="14.1" font-weight="bold" text-anchor="end">10000</text>
<text x="290.5" y="735" font-size="19.7" text-anchor="middle">Fluorescence Intensity</text>
<text transform="translate(17.8,341) rotate(-90)" font-size="20.3" text-anchor="middle">Events</text>
<text x="-0.5" y="25.5" font-size="36" font-weight="bold" style="font-family:'Liberation Sans',sans-serif">B</text>
</svg>
</body></html>
